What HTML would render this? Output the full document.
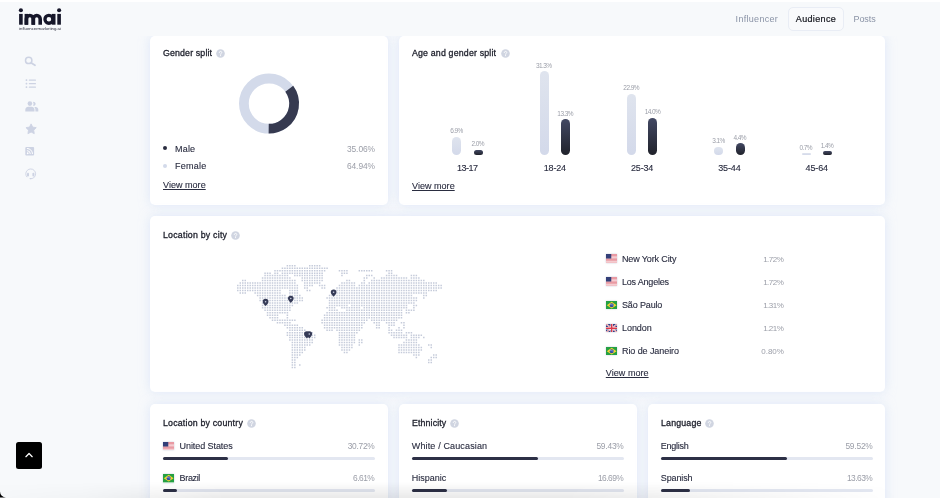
<!DOCTYPE html>
<html><head><meta charset="utf-8"><title>imai</title>
<style>
html,body{margin:0;padding:0}
body{width:940px;height:500px;overflow:hidden;position:relative;background:#f7f9fb;font-family:"Liberation Sans",sans-serif}
.card{position:absolute;background:#fff;border-radius:5px;box-shadow:0 0 11px rgba(203,217,246,.58)}
</style></head><body>
<div style="position:absolute;left:0;top:0;width:940px;height:500px;will-change:transform">
<div class="card" style="left:150px;top:35.6px;width:238px;height:169.4px"></div>
<div class="card" style="left:399px;top:35.6px;width:486px;height:169.4px"></div>
<div class="card" style="left:150px;top:216px;width:735px;height:176px"></div>
<div class="card" style="left:150px;top:404px;width:238px;height:120px"></div>
<div class="card" style="left:399px;top:404px;width:238px;height:120px"></div>
<div class="card" style="left:648px;top:404px;width:237px;height:120px"></div>
<div style="position:absolute;top:48px;font-size:8.8px;line-height:10px;color:#1d1f2b;white-space:nowrap;letter-spacing:0.146px;-webkit-text-stroke:0.3px #1d1f2b;left:163.00px;">Gender split</div>
<svg style="position:absolute;left:216.00px;top:48.80px" width="9" height="9" viewBox="0 0 9 9"><circle cx="4.5" cy="4.5" r="4.3" fill="#d0d5e1"/><path d="M3.3 3.6c0-.7.5-1.2 1.25-1.2.7 0 1.2.45 1.2 1.05 0 .9-1.15.95-1.15 1.85" fill="none" stroke="#fff" stroke-width=".9" stroke-linecap="round"/><circle cx="4.55" cy="6.6" r=".55" fill="#fff"/></svg>
<svg style="position:absolute;left:0;top:0" width="940" height="500"><circle cx="269" cy="103.6" r="25.1" fill="none" stroke="#d3daea" stroke-width="9.8"/><circle cx="269" cy="103.6" r="25.1" fill="none" stroke="#363a50" stroke-width="9.8" stroke-dasharray="55.292 157.708" transform="rotate(-36.22 269 103.6)"/></svg>
<div style="position:absolute;left:163.2px;top:146.4px;width:4px;height:4px;border-radius:50%;background:#2a2d40"></div>
<div style="position:absolute;left:163.2px;top:163.6px;width:4px;height:4px;border-radius:50%;background:#d3daea"></div>
<div style="position:absolute;top:144px;font-size:9px;line-height:10px;color:#2a2d40;white-space:nowrap;letter-spacing:0.198px;-webkit-text-stroke:0.12px #2a2d40;left:175.00px;">Male</div>
<div style="position:absolute;top:161px;font-size:9px;line-height:10px;color:#2a2d40;white-space:nowrap;letter-spacing:0.265px;-webkit-text-stroke:0.12px #2a2d40;left:175.00px;">Female</div>
<div style="position:absolute;top:144px;font-size:8.4px;line-height:10px;color:#9b9ea8;white-space:nowrap;letter-spacing:-0.065px;right:565.06px;">35.06%</div>
<div style="position:absolute;top:161px;font-size:8.4px;line-height:10px;color:#9b9ea8;white-space:nowrap;letter-spacing:-0.065px;right:565.06px;">64.94%</div>
<div style="position:absolute;top:180px;font-size:9px;line-height:10px;color:#2a2d40;white-space:nowrap;letter-spacing:0.039px;-webkit-text-stroke:0.12px #2a2d40;left:163.00px;text-decoration:underline;text-underline-offset:1px;text-decoration-thickness:.8px;">View more</div>
<div style="position:absolute;top:48px;font-size:8.8px;line-height:10px;color:#1d1f2b;white-space:nowrap;letter-spacing:0.174px;-webkit-text-stroke:0.3px #1d1f2b;left:412.00px;">Age and gender split</div>
<svg style="position:absolute;left:500.50px;top:48.80px" width="9" height="9" viewBox="0 0 9 9"><circle cx="4.5" cy="4.5" r="4.3" fill="#d0d5e1"/><path d="M3.3 3.6c0-.7.5-1.2 1.25-1.2.7 0 1.2.45 1.2 1.05 0 .9-1.15.95-1.15 1.85" fill="none" stroke="#fff" stroke-width=".9" stroke-linecap="round"/><circle cx="4.55" cy="6.6" r=".55" fill="#fff"/></svg>
<div style="position:absolute;left:452.30px;top:136.67px;width:9px;height:18.53px;border-radius:4.50px;background:linear-gradient(#dfe4ee,#d3d9ea)"></div>
<div style="position:absolute;left:473.60px;top:149.83px;width:9px;height:5.37px;border-radius:2.69px;background:linear-gradient(#424863,#20222b)"></div>
<div style="position:absolute;top:127px;font-size:6.5px;line-height:7px;color:#9b9ea8;white-space:nowrap;letter-spacing:-0.593px;left:356.50px;width:200px;text-align:center;">6.9%</div>
<div style="position:absolute;top:140px;font-size:6.5px;line-height:7px;color:#9b9ea8;white-space:nowrap;letter-spacing:-0.593px;left:377.80px;width:200px;text-align:center;">2.0%</div>
<div style="position:absolute;top:163px;font-size:9px;line-height:10px;color:#2a2d40;white-space:nowrap;letter-spacing:-0.500px;-webkit-text-stroke:0.12px #2a2d40;left:367.35px;width:200px;text-align:center;">13-17</div>
<div style="position:absolute;left:539.60px;top:71.16px;width:9px;height:84.04px;border-radius:4.50px;background:linear-gradient(#dfe4ee,#d3d9ea)"></div>
<div style="position:absolute;left:560.90px;top:119.49px;width:9px;height:35.71px;border-radius:4.50px;background:linear-gradient(#424863,#20222b)"></div>
<div style="position:absolute;top:62px;font-size:6.5px;line-height:7px;color:#9b9ea8;white-space:nowrap;letter-spacing:-0.590px;left:443.81px;width:200px;text-align:center;">31.3%</div>
<div style="position:absolute;top:110px;font-size:6.5px;line-height:7px;color:#9b9ea8;white-space:nowrap;letter-spacing:-0.590px;left:465.11px;width:200px;text-align:center;">13.3%</div>
<div style="position:absolute;top:163px;font-size:9px;line-height:10px;color:#2a2d40;white-space:nowrap;letter-spacing:-0.224px;-webkit-text-stroke:0.12px #2a2d40;left:454.79px;width:200px;text-align:center;">18-24</div>
<div style="position:absolute;left:626.90px;top:93.71px;width:9px;height:61.49px;border-radius:4.50px;background:linear-gradient(#dfe4ee,#d3d9ea)"></div>
<div style="position:absolute;left:648.20px;top:117.61px;width:9px;height:37.59px;border-radius:4.50px;background:linear-gradient(#424863,#20222b)"></div>
<div style="position:absolute;top:84px;font-size:6.5px;line-height:7px;color:#9b9ea8;white-space:nowrap;letter-spacing:-0.590px;left:531.11px;width:200px;text-align:center;">22.9%</div>
<div style="position:absolute;top:108px;font-size:6.5px;line-height:7px;color:#9b9ea8;white-space:nowrap;letter-spacing:-0.590px;left:552.41px;width:200px;text-align:center;">14.0%</div>
<div style="position:absolute;top:163px;font-size:9px;line-height:10px;color:#2a2d40;white-space:nowrap;letter-spacing:-0.164px;-webkit-text-stroke:0.12px #2a2d40;left:542.12px;width:200px;text-align:center;">25-34</div>
<div style="position:absolute;left:714.20px;top:146.88px;width:9px;height:8.32px;border-radius:4.16px;background:linear-gradient(#dfe4ee,#d3d9ea)"></div>
<div style="position:absolute;left:735.50px;top:143.39px;width:9px;height:11.81px;border-radius:4.50px;background:linear-gradient(#424863,#20222b)"></div>
<div style="position:absolute;top:137px;font-size:6.5px;line-height:7px;color:#9b9ea8;white-space:nowrap;letter-spacing:-0.593px;left:618.40px;width:200px;text-align:center;">3.1%</div>
<div style="position:absolute;top:134px;font-size:6.5px;line-height:7px;color:#9b9ea8;white-space:nowrap;letter-spacing:-0.593px;left:639.70px;width:200px;text-align:center;">4.4%</div>
<div style="position:absolute;top:163px;font-size:9px;line-height:10px;color:#2a2d40;white-space:nowrap;letter-spacing:-0.124px;-webkit-text-stroke:0.12px #2a2d40;left:629.44px;width:200px;text-align:center;">35-44</div>
<div style="position:absolute;left:801.50px;top:153.32px;width:9px;height:1.88px;border-radius:0.94px;background:linear-gradient(#dfe4ee,#d3d9ea)"></div>
<div style="position:absolute;left:822.80px;top:151.44px;width:9px;height:3.76px;border-radius:1.88px;background:linear-gradient(#424863,#20222b)"></div>
<div style="position:absolute;top:144px;font-size:6.5px;line-height:7px;color:#9b9ea8;white-space:nowrap;letter-spacing:-0.593px;left:705.70px;width:200px;text-align:center;">0.7%</div>
<div style="position:absolute;top:142px;font-size:6.5px;line-height:7px;color:#9b9ea8;white-space:nowrap;letter-spacing:-0.593px;left:727.00px;width:200px;text-align:center;">1.4%</div>
<div style="position:absolute;top:163px;font-size:9px;line-height:10px;color:#2a2d40;white-space:nowrap;letter-spacing:-0.124px;-webkit-text-stroke:0.12px #2a2d40;left:716.74px;width:200px;text-align:center;">45-64</div>
<div style="position:absolute;top:181px;font-size:9px;line-height:10px;color:#2a2d40;white-space:nowrap;letter-spacing:0.039px;-webkit-text-stroke:0.12px #2a2d40;left:412.00px;text-decoration:underline;text-underline-offset:1px;text-decoration-thickness:.8px;">View more</div>
<div style="position:absolute;top:230px;font-size:8.8px;line-height:10px;color:#1d1f2b;white-space:nowrap;letter-spacing:0.222px;-webkit-text-stroke:0.3px #1d1f2b;left:163.00px;">Location by city</div>
<svg style="position:absolute;left:230.80px;top:230.90px" width="9" height="9" viewBox="0 0 9 9"><circle cx="4.5" cy="4.5" r="4.3" fill="#d0d5e1"/><path d="M3.3 3.6c0-.7.5-1.2 1.25-1.2.7 0 1.2.45 1.2 1.05 0 .9-1.15.95-1.15 1.85" fill="none" stroke="#fff" stroke-width=".9" stroke-linecap="round"/><circle cx="4.55" cy="6.6" r=".55" fill="#fff"/></svg>
<svg style="position:absolute;left:0;top:0" width="940" height="500"><path fill="#c5cbda" d="M286.65 264.95h1.5v1.5h-1.5zM289.13 264.95h1.5v1.5h-1.5zM291.61 264.95h1.5v1.5h-1.5zM294.09 264.95h1.5v1.5h-1.5zM308.97 264.95h1.5v1.5h-1.5zM311.45 264.95h1.5v1.5h-1.5zM313.93 264.95h1.5v1.5h-1.5zM316.41 264.95h1.5v1.5h-1.5zM318.89 264.95h1.5v1.5h-1.5zM281.69 267.43h1.5v1.5h-1.5zM284.17 267.43h1.5v1.5h-1.5zM286.65 267.43h1.5v1.5h-1.5zM289.13 267.43h1.5v1.5h-1.5zM291.61 267.43h1.5v1.5h-1.5zM294.09 267.43h1.5v1.5h-1.5zM296.57 267.43h1.5v1.5h-1.5zM299.05 267.43h1.5v1.5h-1.5zM301.53 267.43h1.5v1.5h-1.5zM304.01 267.43h1.5v1.5h-1.5zM306.49 267.43h1.5v1.5h-1.5zM308.97 267.43h1.5v1.5h-1.5zM311.45 267.43h1.5v1.5h-1.5zM313.93 267.43h1.5v1.5h-1.5zM316.41 267.43h1.5v1.5h-1.5zM318.89 267.43h1.5v1.5h-1.5zM321.37 267.43h1.5v1.5h-1.5zM323.85 267.43h1.5v1.5h-1.5zM326.33 267.43h1.5v1.5h-1.5zM274.25 269.91h1.5v1.5h-1.5zM276.73 269.91h1.5v1.5h-1.5zM279.21 269.91h1.5v1.5h-1.5zM281.69 269.91h1.5v1.5h-1.5zM284.17 269.91h1.5v1.5h-1.5zM286.65 269.91h1.5v1.5h-1.5zM289.13 269.91h1.5v1.5h-1.5zM291.61 269.91h1.5v1.5h-1.5zM294.09 269.91h1.5v1.5h-1.5zM296.57 269.91h1.5v1.5h-1.5zM299.05 269.91h1.5v1.5h-1.5zM301.53 269.91h1.5v1.5h-1.5zM304.01 269.91h1.5v1.5h-1.5zM306.49 269.91h1.5v1.5h-1.5zM308.97 269.91h1.5v1.5h-1.5zM311.45 269.91h1.5v1.5h-1.5zM313.93 269.91h1.5v1.5h-1.5zM316.41 269.91h1.5v1.5h-1.5zM318.89 269.91h1.5v1.5h-1.5zM321.37 269.91h1.5v1.5h-1.5zM323.85 269.91h1.5v1.5h-1.5zM338.73 269.91h1.5v1.5h-1.5zM341.21 269.91h1.5v1.5h-1.5zM343.69 269.91h1.5v1.5h-1.5zM346.17 269.91h1.5v1.5h-1.5zM358.57 269.91h1.5v1.5h-1.5zM361.05 269.91h1.5v1.5h-1.5zM363.53 269.91h1.5v1.5h-1.5zM366.01 269.91h1.5v1.5h-1.5zM368.49 269.91h1.5v1.5h-1.5zM370.97 269.91h1.5v1.5h-1.5zM385.85 269.91h1.5v1.5h-1.5zM388.33 269.91h1.5v1.5h-1.5zM390.81 269.91h1.5v1.5h-1.5zM264.33 272.39h1.5v1.5h-1.5zM266.81 272.39h1.5v1.5h-1.5zM269.29 272.39h1.5v1.5h-1.5zM274.25 272.39h1.5v1.5h-1.5zM276.73 272.39h1.5v1.5h-1.5zM281.69 272.39h1.5v1.5h-1.5zM284.17 272.39h1.5v1.5h-1.5zM286.65 272.39h1.5v1.5h-1.5zM289.13 272.39h1.5v1.5h-1.5zM291.61 272.39h1.5v1.5h-1.5zM294.09 272.39h1.5v1.5h-1.5zM296.57 272.39h1.5v1.5h-1.5zM299.05 272.39h1.5v1.5h-1.5zM301.53 272.39h1.5v1.5h-1.5zM304.01 272.39h1.5v1.5h-1.5zM306.49 272.39h1.5v1.5h-1.5zM308.97 272.39h1.5v1.5h-1.5zM311.45 272.39h1.5v1.5h-1.5zM313.93 272.39h1.5v1.5h-1.5zM316.41 272.39h1.5v1.5h-1.5zM318.89 272.39h1.5v1.5h-1.5zM321.37 272.39h1.5v1.5h-1.5zM341.21 272.39h1.5v1.5h-1.5zM343.69 272.39h1.5v1.5h-1.5zM346.17 272.39h1.5v1.5h-1.5zM388.33 272.39h1.5v1.5h-1.5zM390.81 272.39h1.5v1.5h-1.5zM264.33 274.87h1.5v1.5h-1.5zM266.81 274.87h1.5v1.5h-1.5zM269.29 274.87h1.5v1.5h-1.5zM271.77 274.87h1.5v1.5h-1.5zM274.25 274.87h1.5v1.5h-1.5zM276.73 274.87h1.5v1.5h-1.5zM279.21 274.87h1.5v1.5h-1.5zM281.69 274.87h1.5v1.5h-1.5zM284.17 274.87h1.5v1.5h-1.5zM286.65 274.87h1.5v1.5h-1.5zM294.09 274.87h1.5v1.5h-1.5zM296.57 274.87h1.5v1.5h-1.5zM299.05 274.87h1.5v1.5h-1.5zM301.53 274.87h1.5v1.5h-1.5zM304.01 274.87h1.5v1.5h-1.5zM306.49 274.87h1.5v1.5h-1.5zM308.97 274.87h1.5v1.5h-1.5zM311.45 274.87h1.5v1.5h-1.5zM313.93 274.87h1.5v1.5h-1.5zM316.41 274.87h1.5v1.5h-1.5zM318.89 274.87h1.5v1.5h-1.5zM321.37 274.87h1.5v1.5h-1.5zM341.21 274.87h1.5v1.5h-1.5zM366.01 274.87h1.5v1.5h-1.5zM368.49 274.87h1.5v1.5h-1.5zM370.97 274.87h1.5v1.5h-1.5zM385.85 274.87h1.5v1.5h-1.5zM388.33 274.87h1.5v1.5h-1.5zM390.81 274.87h1.5v1.5h-1.5zM393.29 274.87h1.5v1.5h-1.5zM395.77 274.87h1.5v1.5h-1.5zM410.65 274.87h1.5v1.5h-1.5zM413.13 274.87h1.5v1.5h-1.5zM415.61 274.87h1.5v1.5h-1.5zM261.85 277.35h1.5v1.5h-1.5zM264.33 277.35h1.5v1.5h-1.5zM266.81 277.35h1.5v1.5h-1.5zM269.29 277.35h1.5v1.5h-1.5zM271.77 277.35h1.5v1.5h-1.5zM274.25 277.35h1.5v1.5h-1.5zM276.73 277.35h1.5v1.5h-1.5zM279.21 277.35h1.5v1.5h-1.5zM281.69 277.35h1.5v1.5h-1.5zM284.17 277.35h1.5v1.5h-1.5zM286.65 277.35h1.5v1.5h-1.5zM289.13 277.35h1.5v1.5h-1.5zM301.53 277.35h1.5v1.5h-1.5zM304.01 277.35h1.5v1.5h-1.5zM306.49 277.35h1.5v1.5h-1.5zM308.97 277.35h1.5v1.5h-1.5zM311.45 277.35h1.5v1.5h-1.5zM313.93 277.35h1.5v1.5h-1.5zM316.41 277.35h1.5v1.5h-1.5zM318.89 277.35h1.5v1.5h-1.5zM321.37 277.35h1.5v1.5h-1.5zM363.53 277.35h1.5v1.5h-1.5zM366.01 277.35h1.5v1.5h-1.5zM373.45 277.35h1.5v1.5h-1.5zM380.89 277.35h1.5v1.5h-1.5zM383.37 277.35h1.5v1.5h-1.5zM385.85 277.35h1.5v1.5h-1.5zM388.33 277.35h1.5v1.5h-1.5zM390.81 277.35h1.5v1.5h-1.5zM393.29 277.35h1.5v1.5h-1.5zM395.77 277.35h1.5v1.5h-1.5zM398.25 277.35h1.5v1.5h-1.5zM400.73 277.35h1.5v1.5h-1.5zM403.21 277.35h1.5v1.5h-1.5zM405.69 277.35h1.5v1.5h-1.5zM410.65 277.35h1.5v1.5h-1.5zM413.13 277.35h1.5v1.5h-1.5zM415.61 277.35h1.5v1.5h-1.5zM418.09 277.35h1.5v1.5h-1.5zM242.01 279.83h1.5v1.5h-1.5zM244.49 279.83h1.5v1.5h-1.5zM261.85 279.83h1.5v1.5h-1.5zM264.33 279.83h1.5v1.5h-1.5zM266.81 279.83h1.5v1.5h-1.5zM269.29 279.83h1.5v1.5h-1.5zM271.77 279.83h1.5v1.5h-1.5zM274.25 279.83h1.5v1.5h-1.5zM276.73 279.83h1.5v1.5h-1.5zM279.21 279.83h1.5v1.5h-1.5zM281.69 279.83h1.5v1.5h-1.5zM284.17 279.83h1.5v1.5h-1.5zM286.65 279.83h1.5v1.5h-1.5zM289.13 279.83h1.5v1.5h-1.5zM291.61 279.83h1.5v1.5h-1.5zM294.09 279.83h1.5v1.5h-1.5zM301.53 279.83h1.5v1.5h-1.5zM304.01 279.83h1.5v1.5h-1.5zM306.49 279.83h1.5v1.5h-1.5zM308.97 279.83h1.5v1.5h-1.5zM311.45 279.83h1.5v1.5h-1.5zM313.93 279.83h1.5v1.5h-1.5zM316.41 279.83h1.5v1.5h-1.5zM318.89 279.83h1.5v1.5h-1.5zM321.37 279.83h1.5v1.5h-1.5zM346.17 279.83h1.5v1.5h-1.5zM348.65 279.83h1.5v1.5h-1.5zM363.53 279.83h1.5v1.5h-1.5zM370.97 279.83h1.5v1.5h-1.5zM373.45 279.83h1.5v1.5h-1.5zM375.93 279.83h1.5v1.5h-1.5zM378.41 279.83h1.5v1.5h-1.5zM380.89 279.83h1.5v1.5h-1.5zM383.37 279.83h1.5v1.5h-1.5zM385.85 279.83h1.5v1.5h-1.5zM388.33 279.83h1.5v1.5h-1.5zM390.81 279.83h1.5v1.5h-1.5zM393.29 279.83h1.5v1.5h-1.5zM395.77 279.83h1.5v1.5h-1.5zM398.25 279.83h1.5v1.5h-1.5zM400.73 279.83h1.5v1.5h-1.5zM403.21 279.83h1.5v1.5h-1.5zM405.69 279.83h1.5v1.5h-1.5zM408.17 279.83h1.5v1.5h-1.5zM410.65 279.83h1.5v1.5h-1.5zM413.13 279.83h1.5v1.5h-1.5zM415.61 279.83h1.5v1.5h-1.5zM418.09 279.83h1.5v1.5h-1.5zM420.57 279.83h1.5v1.5h-1.5zM423.05 279.83h1.5v1.5h-1.5zM239.53 282.31h1.5v1.5h-1.5zM242.01 282.31h1.5v1.5h-1.5zM244.49 282.31h1.5v1.5h-1.5zM246.97 282.31h1.5v1.5h-1.5zM249.45 282.31h1.5v1.5h-1.5zM251.93 282.31h1.5v1.5h-1.5zM254.41 282.31h1.5v1.5h-1.5zM256.89 282.31h1.5v1.5h-1.5zM259.37 282.31h1.5v1.5h-1.5zM261.85 282.31h1.5v1.5h-1.5zM264.33 282.31h1.5v1.5h-1.5zM266.81 282.31h1.5v1.5h-1.5zM269.29 282.31h1.5v1.5h-1.5zM271.77 282.31h1.5v1.5h-1.5zM274.25 282.31h1.5v1.5h-1.5zM276.73 282.31h1.5v1.5h-1.5zM279.21 282.31h1.5v1.5h-1.5zM281.69 282.31h1.5v1.5h-1.5zM284.17 282.31h1.5v1.5h-1.5zM286.65 282.31h1.5v1.5h-1.5zM289.13 282.31h1.5v1.5h-1.5zM291.61 282.31h1.5v1.5h-1.5zM294.09 282.31h1.5v1.5h-1.5zM304.01 282.31h1.5v1.5h-1.5zM306.49 282.31h1.5v1.5h-1.5zM308.97 282.31h1.5v1.5h-1.5zM311.45 282.31h1.5v1.5h-1.5zM313.93 282.31h1.5v1.5h-1.5zM316.41 282.31h1.5v1.5h-1.5zM318.89 282.31h1.5v1.5h-1.5zM341.21 282.31h1.5v1.5h-1.5zM343.69 282.31h1.5v1.5h-1.5zM346.17 282.31h1.5v1.5h-1.5zM348.65 282.31h1.5v1.5h-1.5zM351.13 282.31h1.5v1.5h-1.5zM353.61 282.31h1.5v1.5h-1.5zM361.05 282.31h1.5v1.5h-1.5zM363.53 282.31h1.5v1.5h-1.5zM368.49 282.31h1.5v1.5h-1.5zM370.97 282.31h1.5v1.5h-1.5zM373.45 282.31h1.5v1.5h-1.5zM375.93 282.31h1.5v1.5h-1.5zM378.41 282.31h1.5v1.5h-1.5zM380.89 282.31h1.5v1.5h-1.5zM383.37 282.31h1.5v1.5h-1.5zM385.85 282.31h1.5v1.5h-1.5zM388.33 282.31h1.5v1.5h-1.5zM390.81 282.31h1.5v1.5h-1.5zM393.29 282.31h1.5v1.5h-1.5zM395.77 282.31h1.5v1.5h-1.5zM398.25 282.31h1.5v1.5h-1.5zM400.73 282.31h1.5v1.5h-1.5zM403.21 282.31h1.5v1.5h-1.5zM405.69 282.31h1.5v1.5h-1.5zM408.17 282.31h1.5v1.5h-1.5zM410.65 282.31h1.5v1.5h-1.5zM413.13 282.31h1.5v1.5h-1.5zM415.61 282.31h1.5v1.5h-1.5zM418.09 282.31h1.5v1.5h-1.5zM420.57 282.31h1.5v1.5h-1.5zM423.05 282.31h1.5v1.5h-1.5zM425.53 282.31h1.5v1.5h-1.5zM428.01 282.31h1.5v1.5h-1.5zM430.49 282.31h1.5v1.5h-1.5zM432.97 282.31h1.5v1.5h-1.5zM435.45 282.31h1.5v1.5h-1.5zM237.05 284.79h1.5v1.5h-1.5zM239.53 284.79h1.5v1.5h-1.5zM242.01 284.79h1.5v1.5h-1.5zM244.49 284.79h1.5v1.5h-1.5zM246.97 284.79h1.5v1.5h-1.5zM249.45 284.79h1.5v1.5h-1.5zM251.93 284.79h1.5v1.5h-1.5zM254.41 284.79h1.5v1.5h-1.5zM256.89 284.79h1.5v1.5h-1.5zM259.37 284.79h1.5v1.5h-1.5zM261.85 284.79h1.5v1.5h-1.5zM264.33 284.79h1.5v1.5h-1.5zM266.81 284.79h1.5v1.5h-1.5zM269.29 284.79h1.5v1.5h-1.5zM271.77 284.79h1.5v1.5h-1.5zM274.25 284.79h1.5v1.5h-1.5zM276.73 284.79h1.5v1.5h-1.5zM279.21 284.79h1.5v1.5h-1.5zM281.69 284.79h1.5v1.5h-1.5zM284.17 284.79h1.5v1.5h-1.5zM286.65 284.79h1.5v1.5h-1.5zM289.13 284.79h1.5v1.5h-1.5zM291.61 284.79h1.5v1.5h-1.5zM294.09 284.79h1.5v1.5h-1.5zM296.57 284.79h1.5v1.5h-1.5zM304.01 284.79h1.5v1.5h-1.5zM306.49 284.79h1.5v1.5h-1.5zM308.97 284.79h1.5v1.5h-1.5zM311.45 284.79h1.5v1.5h-1.5zM318.89 284.79h1.5v1.5h-1.5zM321.37 284.79h1.5v1.5h-1.5zM323.85 284.79h1.5v1.5h-1.5zM338.73 284.79h1.5v1.5h-1.5zM341.21 284.79h1.5v1.5h-1.5zM343.69 284.79h1.5v1.5h-1.5zM346.17 284.79h1.5v1.5h-1.5zM348.65 284.79h1.5v1.5h-1.5zM351.13 284.79h1.5v1.5h-1.5zM353.61 284.79h1.5v1.5h-1.5zM358.57 284.79h1.5v1.5h-1.5zM361.05 284.79h1.5v1.5h-1.5zM363.53 284.79h1.5v1.5h-1.5zM366.01 284.79h1.5v1.5h-1.5zM368.49 284.79h1.5v1.5h-1.5zM370.97 284.79h1.5v1.5h-1.5zM373.45 284.79h1.5v1.5h-1.5zM375.93 284.79h1.5v1.5h-1.5zM378.41 284.79h1.5v1.5h-1.5zM380.89 284.79h1.5v1.5h-1.5zM383.37 284.79h1.5v1.5h-1.5zM385.85 284.79h1.5v1.5h-1.5zM388.33 284.79h1.5v1.5h-1.5zM390.81 284.79h1.5v1.5h-1.5zM393.29 284.79h1.5v1.5h-1.5zM395.77 284.79h1.5v1.5h-1.5zM398.25 284.79h1.5v1.5h-1.5zM400.73 284.79h1.5v1.5h-1.5zM403.21 284.79h1.5v1.5h-1.5zM405.69 284.79h1.5v1.5h-1.5zM408.17 284.79h1.5v1.5h-1.5zM410.65 284.79h1.5v1.5h-1.5zM413.13 284.79h1.5v1.5h-1.5zM415.61 284.79h1.5v1.5h-1.5zM418.09 284.79h1.5v1.5h-1.5zM420.57 284.79h1.5v1.5h-1.5zM423.05 284.79h1.5v1.5h-1.5zM425.53 284.79h1.5v1.5h-1.5zM428.01 284.79h1.5v1.5h-1.5zM430.49 284.79h1.5v1.5h-1.5zM432.97 284.79h1.5v1.5h-1.5zM435.45 284.79h1.5v1.5h-1.5zM437.93 284.79h1.5v1.5h-1.5zM440.41 284.79h1.5v1.5h-1.5zM237.05 287.27h1.5v1.5h-1.5zM239.53 287.27h1.5v1.5h-1.5zM242.01 287.27h1.5v1.5h-1.5zM244.49 287.27h1.5v1.5h-1.5zM246.97 287.27h1.5v1.5h-1.5zM249.45 287.27h1.5v1.5h-1.5zM251.93 287.27h1.5v1.5h-1.5zM254.41 287.27h1.5v1.5h-1.5zM256.89 287.27h1.5v1.5h-1.5zM259.37 287.27h1.5v1.5h-1.5zM261.85 287.27h1.5v1.5h-1.5zM264.33 287.27h1.5v1.5h-1.5zM266.81 287.27h1.5v1.5h-1.5zM269.29 287.27h1.5v1.5h-1.5zM271.77 287.27h1.5v1.5h-1.5zM274.25 287.27h1.5v1.5h-1.5zM276.73 287.27h1.5v1.5h-1.5zM279.21 287.27h1.5v1.5h-1.5zM281.69 287.27h1.5v1.5h-1.5zM284.17 287.27h1.5v1.5h-1.5zM286.65 287.27h1.5v1.5h-1.5zM289.13 287.27h1.5v1.5h-1.5zM291.61 287.27h1.5v1.5h-1.5zM294.09 287.27h1.5v1.5h-1.5zM296.57 287.27h1.5v1.5h-1.5zM304.01 287.27h1.5v1.5h-1.5zM306.49 287.27h1.5v1.5h-1.5zM321.37 287.27h1.5v1.5h-1.5zM323.85 287.27h1.5v1.5h-1.5zM336.25 287.27h1.5v1.5h-1.5zM338.73 287.27h1.5v1.5h-1.5zM341.21 287.27h1.5v1.5h-1.5zM343.69 287.27h1.5v1.5h-1.5zM346.17 287.27h1.5v1.5h-1.5zM348.65 287.27h1.5v1.5h-1.5zM351.13 287.27h1.5v1.5h-1.5zM353.61 287.27h1.5v1.5h-1.5zM356.09 287.27h1.5v1.5h-1.5zM358.57 287.27h1.5v1.5h-1.5zM361.05 287.27h1.5v1.5h-1.5zM363.53 287.27h1.5v1.5h-1.5zM366.01 287.27h1.5v1.5h-1.5zM368.49 287.27h1.5v1.5h-1.5zM370.97 287.27h1.5v1.5h-1.5zM373.45 287.27h1.5v1.5h-1.5zM375.93 287.27h1.5v1.5h-1.5zM378.41 287.27h1.5v1.5h-1.5zM380.89 287.27h1.5v1.5h-1.5zM383.37 287.27h1.5v1.5h-1.5zM385.85 287.27h1.5v1.5h-1.5zM388.33 287.27h1.5v1.5h-1.5zM390.81 287.27h1.5v1.5h-1.5zM393.29 287.27h1.5v1.5h-1.5zM395.77 287.27h1.5v1.5h-1.5zM398.25 287.27h1.5v1.5h-1.5zM400.73 287.27h1.5v1.5h-1.5zM403.21 287.27h1.5v1.5h-1.5zM405.69 287.27h1.5v1.5h-1.5zM408.17 287.27h1.5v1.5h-1.5zM410.65 287.27h1.5v1.5h-1.5zM413.13 287.27h1.5v1.5h-1.5zM415.61 287.27h1.5v1.5h-1.5zM418.09 287.27h1.5v1.5h-1.5zM420.57 287.27h1.5v1.5h-1.5zM423.05 287.27h1.5v1.5h-1.5zM425.53 287.27h1.5v1.5h-1.5zM428.01 287.27h1.5v1.5h-1.5zM430.49 287.27h1.5v1.5h-1.5zM432.97 287.27h1.5v1.5h-1.5zM435.45 287.27h1.5v1.5h-1.5zM437.93 287.27h1.5v1.5h-1.5zM440.41 287.27h1.5v1.5h-1.5zM237.05 289.75h1.5v1.5h-1.5zM239.53 289.75h1.5v1.5h-1.5zM242.01 289.75h1.5v1.5h-1.5zM244.49 289.75h1.5v1.5h-1.5zM246.97 289.75h1.5v1.5h-1.5zM249.45 289.75h1.5v1.5h-1.5zM251.93 289.75h1.5v1.5h-1.5zM254.41 289.75h1.5v1.5h-1.5zM256.89 289.75h1.5v1.5h-1.5zM259.37 289.75h1.5v1.5h-1.5zM261.85 289.75h1.5v1.5h-1.5zM264.33 289.75h1.5v1.5h-1.5zM266.81 289.75h1.5v1.5h-1.5zM269.29 289.75h1.5v1.5h-1.5zM271.77 289.75h1.5v1.5h-1.5zM274.25 289.75h1.5v1.5h-1.5zM276.73 289.75h1.5v1.5h-1.5zM279.21 289.75h1.5v1.5h-1.5zM289.13 289.75h1.5v1.5h-1.5zM291.61 289.75h1.5v1.5h-1.5zM294.09 289.75h1.5v1.5h-1.5zM296.57 289.75h1.5v1.5h-1.5zM306.49 289.75h1.5v1.5h-1.5zM308.97 289.75h1.5v1.5h-1.5zM333.77 289.75h1.5v1.5h-1.5zM336.25 289.75h1.5v1.5h-1.5zM338.73 289.75h1.5v1.5h-1.5zM341.21 289.75h1.5v1.5h-1.5zM343.69 289.75h1.5v1.5h-1.5zM346.17 289.75h1.5v1.5h-1.5zM348.65 289.75h1.5v1.5h-1.5zM351.13 289.75h1.5v1.5h-1.5zM353.61 289.75h1.5v1.5h-1.5zM356.09 289.75h1.5v1.5h-1.5zM358.57 289.75h1.5v1.5h-1.5zM361.05 289.75h1.5v1.5h-1.5zM363.53 289.75h1.5v1.5h-1.5zM366.01 289.75h1.5v1.5h-1.5zM368.49 289.75h1.5v1.5h-1.5zM370.97 289.75h1.5v1.5h-1.5zM373.45 289.75h1.5v1.5h-1.5zM375.93 289.75h1.5v1.5h-1.5zM378.41 289.75h1.5v1.5h-1.5zM380.89 289.75h1.5v1.5h-1.5zM383.37 289.75h1.5v1.5h-1.5zM385.85 289.75h1.5v1.5h-1.5zM388.33 289.75h1.5v1.5h-1.5zM390.81 289.75h1.5v1.5h-1.5zM393.29 289.75h1.5v1.5h-1.5zM395.77 289.75h1.5v1.5h-1.5zM398.25 289.75h1.5v1.5h-1.5zM400.73 289.75h1.5v1.5h-1.5zM403.21 289.75h1.5v1.5h-1.5zM405.69 289.75h1.5v1.5h-1.5zM408.17 289.75h1.5v1.5h-1.5zM410.65 289.75h1.5v1.5h-1.5zM413.13 289.75h1.5v1.5h-1.5zM415.61 289.75h1.5v1.5h-1.5zM418.09 289.75h1.5v1.5h-1.5zM420.57 289.75h1.5v1.5h-1.5zM423.05 289.75h1.5v1.5h-1.5zM425.53 289.75h1.5v1.5h-1.5zM428.01 289.75h1.5v1.5h-1.5zM430.49 289.75h1.5v1.5h-1.5zM432.97 289.75h1.5v1.5h-1.5zM435.45 289.75h1.5v1.5h-1.5zM239.53 292.23h1.5v1.5h-1.5zM242.01 292.23h1.5v1.5h-1.5zM244.49 292.23h1.5v1.5h-1.5zM254.41 292.23h1.5v1.5h-1.5zM256.89 292.23h1.5v1.5h-1.5zM259.37 292.23h1.5v1.5h-1.5zM261.85 292.23h1.5v1.5h-1.5zM264.33 292.23h1.5v1.5h-1.5zM266.81 292.23h1.5v1.5h-1.5zM269.29 292.23h1.5v1.5h-1.5zM271.77 292.23h1.5v1.5h-1.5zM274.25 292.23h1.5v1.5h-1.5zM276.73 292.23h1.5v1.5h-1.5zM279.21 292.23h1.5v1.5h-1.5zM289.13 292.23h1.5v1.5h-1.5zM291.61 292.23h1.5v1.5h-1.5zM294.09 292.23h1.5v1.5h-1.5zM296.57 292.23h1.5v1.5h-1.5zM331.29 292.23h1.5v1.5h-1.5zM333.77 292.23h1.5v1.5h-1.5zM336.25 292.23h1.5v1.5h-1.5zM338.73 292.23h1.5v1.5h-1.5zM341.21 292.23h1.5v1.5h-1.5zM343.69 292.23h1.5v1.5h-1.5zM346.17 292.23h1.5v1.5h-1.5zM348.65 292.23h1.5v1.5h-1.5zM351.13 292.23h1.5v1.5h-1.5zM353.61 292.23h1.5v1.5h-1.5zM356.09 292.23h1.5v1.5h-1.5zM358.57 292.23h1.5v1.5h-1.5zM361.05 292.23h1.5v1.5h-1.5zM363.53 292.23h1.5v1.5h-1.5zM366.01 292.23h1.5v1.5h-1.5zM368.49 292.23h1.5v1.5h-1.5zM370.97 292.23h1.5v1.5h-1.5zM373.45 292.23h1.5v1.5h-1.5zM375.93 292.23h1.5v1.5h-1.5zM378.41 292.23h1.5v1.5h-1.5zM380.89 292.23h1.5v1.5h-1.5zM383.37 292.23h1.5v1.5h-1.5zM385.85 292.23h1.5v1.5h-1.5zM388.33 292.23h1.5v1.5h-1.5zM390.81 292.23h1.5v1.5h-1.5zM393.29 292.23h1.5v1.5h-1.5zM395.77 292.23h1.5v1.5h-1.5zM398.25 292.23h1.5v1.5h-1.5zM400.73 292.23h1.5v1.5h-1.5zM403.21 292.23h1.5v1.5h-1.5zM405.69 292.23h1.5v1.5h-1.5zM408.17 292.23h1.5v1.5h-1.5zM410.65 292.23h1.5v1.5h-1.5zM413.13 292.23h1.5v1.5h-1.5zM415.61 292.23h1.5v1.5h-1.5zM418.09 292.23h1.5v1.5h-1.5zM420.57 292.23h1.5v1.5h-1.5zM423.05 292.23h1.5v1.5h-1.5zM425.53 292.23h1.5v1.5h-1.5zM256.89 294.71h1.5v1.5h-1.5zM259.37 294.71h1.5v1.5h-1.5zM261.85 294.71h1.5v1.5h-1.5zM264.33 294.71h1.5v1.5h-1.5zM266.81 294.71h1.5v1.5h-1.5zM269.29 294.71h1.5v1.5h-1.5zM271.77 294.71h1.5v1.5h-1.5zM274.25 294.71h1.5v1.5h-1.5zM276.73 294.71h1.5v1.5h-1.5zM279.21 294.71h1.5v1.5h-1.5zM281.69 294.71h1.5v1.5h-1.5zM284.17 294.71h1.5v1.5h-1.5zM289.13 294.71h1.5v1.5h-1.5zM291.61 294.71h1.5v1.5h-1.5zM294.09 294.71h1.5v1.5h-1.5zM296.57 294.71h1.5v1.5h-1.5zM299.05 294.71h1.5v1.5h-1.5zM328.81 294.71h1.5v1.5h-1.5zM331.29 294.71h1.5v1.5h-1.5zM333.77 294.71h1.5v1.5h-1.5zM336.25 294.71h1.5v1.5h-1.5zM338.73 294.71h1.5v1.5h-1.5zM341.21 294.71h1.5v1.5h-1.5zM343.69 294.71h1.5v1.5h-1.5zM346.17 294.71h1.5v1.5h-1.5zM348.65 294.71h1.5v1.5h-1.5zM351.13 294.71h1.5v1.5h-1.5zM353.61 294.71h1.5v1.5h-1.5zM356.09 294.71h1.5v1.5h-1.5zM358.57 294.71h1.5v1.5h-1.5zM361.05 294.71h1.5v1.5h-1.5zM363.53 294.71h1.5v1.5h-1.5zM366.01 294.71h1.5v1.5h-1.5zM368.49 294.71h1.5v1.5h-1.5zM370.97 294.71h1.5v1.5h-1.5zM373.45 294.71h1.5v1.5h-1.5zM375.93 294.71h1.5v1.5h-1.5zM378.41 294.71h1.5v1.5h-1.5zM380.89 294.71h1.5v1.5h-1.5zM383.37 294.71h1.5v1.5h-1.5zM385.85 294.71h1.5v1.5h-1.5zM388.33 294.71h1.5v1.5h-1.5zM390.81 294.71h1.5v1.5h-1.5zM393.29 294.71h1.5v1.5h-1.5zM395.77 294.71h1.5v1.5h-1.5zM398.25 294.71h1.5v1.5h-1.5zM400.73 294.71h1.5v1.5h-1.5zM403.21 294.71h1.5v1.5h-1.5zM405.69 294.71h1.5v1.5h-1.5zM408.17 294.71h1.5v1.5h-1.5zM410.65 294.71h1.5v1.5h-1.5zM423.05 294.71h1.5v1.5h-1.5zM425.53 294.71h1.5v1.5h-1.5zM259.37 297.19h1.5v1.5h-1.5zM261.85 297.19h1.5v1.5h-1.5zM264.33 297.19h1.5v1.5h-1.5zM266.81 297.19h1.5v1.5h-1.5zM269.29 297.19h1.5v1.5h-1.5zM271.77 297.19h1.5v1.5h-1.5zM274.25 297.19h1.5v1.5h-1.5zM276.73 297.19h1.5v1.5h-1.5zM279.21 297.19h1.5v1.5h-1.5zM281.69 297.19h1.5v1.5h-1.5zM284.17 297.19h1.5v1.5h-1.5zM286.65 297.19h1.5v1.5h-1.5zM289.13 297.19h1.5v1.5h-1.5zM291.61 297.19h1.5v1.5h-1.5zM294.09 297.19h1.5v1.5h-1.5zM296.57 297.19h1.5v1.5h-1.5zM299.05 297.19h1.5v1.5h-1.5zM301.53 297.19h1.5v1.5h-1.5zM326.33 297.19h1.5v1.5h-1.5zM328.81 297.19h1.5v1.5h-1.5zM331.29 297.19h1.5v1.5h-1.5zM333.77 297.19h1.5v1.5h-1.5zM336.25 297.19h1.5v1.5h-1.5zM338.73 297.19h1.5v1.5h-1.5zM341.21 297.19h1.5v1.5h-1.5zM343.69 297.19h1.5v1.5h-1.5zM346.17 297.19h1.5v1.5h-1.5zM348.65 297.19h1.5v1.5h-1.5zM351.13 297.19h1.5v1.5h-1.5zM353.61 297.19h1.5v1.5h-1.5zM356.09 297.19h1.5v1.5h-1.5zM358.57 297.19h1.5v1.5h-1.5zM361.05 297.19h1.5v1.5h-1.5zM363.53 297.19h1.5v1.5h-1.5zM366.01 297.19h1.5v1.5h-1.5zM368.49 297.19h1.5v1.5h-1.5zM370.97 297.19h1.5v1.5h-1.5zM373.45 297.19h1.5v1.5h-1.5zM375.93 297.19h1.5v1.5h-1.5zM378.41 297.19h1.5v1.5h-1.5zM380.89 297.19h1.5v1.5h-1.5zM383.37 297.19h1.5v1.5h-1.5zM385.85 297.19h1.5v1.5h-1.5zM388.33 297.19h1.5v1.5h-1.5zM390.81 297.19h1.5v1.5h-1.5zM393.29 297.19h1.5v1.5h-1.5zM395.77 297.19h1.5v1.5h-1.5zM398.25 297.19h1.5v1.5h-1.5zM400.73 297.19h1.5v1.5h-1.5zM403.21 297.19h1.5v1.5h-1.5zM405.69 297.19h1.5v1.5h-1.5zM408.17 297.19h1.5v1.5h-1.5zM410.65 297.19h1.5v1.5h-1.5zM413.13 297.19h1.5v1.5h-1.5zM415.61 297.19h1.5v1.5h-1.5zM423.05 297.19h1.5v1.5h-1.5zM259.37 299.67h1.5v1.5h-1.5zM261.85 299.67h1.5v1.5h-1.5zM264.33 299.67h1.5v1.5h-1.5zM266.81 299.67h1.5v1.5h-1.5zM269.29 299.67h1.5v1.5h-1.5zM271.77 299.67h1.5v1.5h-1.5zM274.25 299.67h1.5v1.5h-1.5zM276.73 299.67h1.5v1.5h-1.5zM279.21 299.67h1.5v1.5h-1.5zM281.69 299.67h1.5v1.5h-1.5zM284.17 299.67h1.5v1.5h-1.5zM286.65 299.67h1.5v1.5h-1.5zM289.13 299.67h1.5v1.5h-1.5zM291.61 299.67h1.5v1.5h-1.5zM294.09 299.67h1.5v1.5h-1.5zM296.57 299.67h1.5v1.5h-1.5zM299.05 299.67h1.5v1.5h-1.5zM301.53 299.67h1.5v1.5h-1.5zM328.81 299.67h1.5v1.5h-1.5zM331.29 299.67h1.5v1.5h-1.5zM333.77 299.67h1.5v1.5h-1.5zM336.25 299.67h1.5v1.5h-1.5zM338.73 299.67h1.5v1.5h-1.5zM341.21 299.67h1.5v1.5h-1.5zM343.69 299.67h1.5v1.5h-1.5zM346.17 299.67h1.5v1.5h-1.5zM348.65 299.67h1.5v1.5h-1.5zM351.13 299.67h1.5v1.5h-1.5zM353.61 299.67h1.5v1.5h-1.5zM356.09 299.67h1.5v1.5h-1.5zM358.57 299.67h1.5v1.5h-1.5zM361.05 299.67h1.5v1.5h-1.5zM363.53 299.67h1.5v1.5h-1.5zM366.01 299.67h1.5v1.5h-1.5zM368.49 299.67h1.5v1.5h-1.5zM370.97 299.67h1.5v1.5h-1.5zM373.45 299.67h1.5v1.5h-1.5zM375.93 299.67h1.5v1.5h-1.5zM378.41 299.67h1.5v1.5h-1.5zM380.89 299.67h1.5v1.5h-1.5zM383.37 299.67h1.5v1.5h-1.5zM385.85 299.67h1.5v1.5h-1.5zM388.33 299.67h1.5v1.5h-1.5zM390.81 299.67h1.5v1.5h-1.5zM393.29 299.67h1.5v1.5h-1.5zM395.77 299.67h1.5v1.5h-1.5zM398.25 299.67h1.5v1.5h-1.5zM400.73 299.67h1.5v1.5h-1.5zM403.21 299.67h1.5v1.5h-1.5zM405.69 299.67h1.5v1.5h-1.5zM408.17 299.67h1.5v1.5h-1.5zM410.65 299.67h1.5v1.5h-1.5zM413.13 299.67h1.5v1.5h-1.5zM415.61 299.67h1.5v1.5h-1.5zM261.85 302.15h1.5v1.5h-1.5zM264.33 302.15h1.5v1.5h-1.5zM266.81 302.15h1.5v1.5h-1.5zM269.29 302.15h1.5v1.5h-1.5zM271.77 302.15h1.5v1.5h-1.5zM274.25 302.15h1.5v1.5h-1.5zM276.73 302.15h1.5v1.5h-1.5zM279.21 302.15h1.5v1.5h-1.5zM281.69 302.15h1.5v1.5h-1.5zM284.17 302.15h1.5v1.5h-1.5zM286.65 302.15h1.5v1.5h-1.5zM289.13 302.15h1.5v1.5h-1.5zM291.61 302.15h1.5v1.5h-1.5zM294.09 302.15h1.5v1.5h-1.5zM296.57 302.15h1.5v1.5h-1.5zM328.81 302.15h1.5v1.5h-1.5zM331.29 302.15h1.5v1.5h-1.5zM333.77 302.15h1.5v1.5h-1.5zM336.25 302.15h1.5v1.5h-1.5zM338.73 302.15h1.5v1.5h-1.5zM341.21 302.15h1.5v1.5h-1.5zM343.69 302.15h1.5v1.5h-1.5zM346.17 302.15h1.5v1.5h-1.5zM348.65 302.15h1.5v1.5h-1.5zM351.13 302.15h1.5v1.5h-1.5zM353.61 302.15h1.5v1.5h-1.5zM356.09 302.15h1.5v1.5h-1.5zM358.57 302.15h1.5v1.5h-1.5zM361.05 302.15h1.5v1.5h-1.5zM363.53 302.15h1.5v1.5h-1.5zM366.01 302.15h1.5v1.5h-1.5zM368.49 302.15h1.5v1.5h-1.5zM370.97 302.15h1.5v1.5h-1.5zM373.45 302.15h1.5v1.5h-1.5zM375.93 302.15h1.5v1.5h-1.5zM378.41 302.15h1.5v1.5h-1.5zM380.89 302.15h1.5v1.5h-1.5zM383.37 302.15h1.5v1.5h-1.5zM385.85 302.15h1.5v1.5h-1.5zM388.33 302.15h1.5v1.5h-1.5zM390.81 302.15h1.5v1.5h-1.5zM393.29 302.15h1.5v1.5h-1.5zM395.77 302.15h1.5v1.5h-1.5zM398.25 302.15h1.5v1.5h-1.5zM400.73 302.15h1.5v1.5h-1.5zM403.21 302.15h1.5v1.5h-1.5zM405.69 302.15h1.5v1.5h-1.5zM408.17 302.15h1.5v1.5h-1.5zM410.65 302.15h1.5v1.5h-1.5zM413.13 302.15h1.5v1.5h-1.5zM261.85 304.63h1.5v1.5h-1.5zM264.33 304.63h1.5v1.5h-1.5zM266.81 304.63h1.5v1.5h-1.5zM269.29 304.63h1.5v1.5h-1.5zM271.77 304.63h1.5v1.5h-1.5zM274.25 304.63h1.5v1.5h-1.5zM276.73 304.63h1.5v1.5h-1.5zM279.21 304.63h1.5v1.5h-1.5zM281.69 304.63h1.5v1.5h-1.5zM284.17 304.63h1.5v1.5h-1.5zM286.65 304.63h1.5v1.5h-1.5zM289.13 304.63h1.5v1.5h-1.5zM291.61 304.63h1.5v1.5h-1.5zM328.81 304.63h1.5v1.5h-1.5zM331.29 304.63h1.5v1.5h-1.5zM333.77 304.63h1.5v1.5h-1.5zM336.25 304.63h1.5v1.5h-1.5zM338.73 304.63h1.5v1.5h-1.5zM341.21 304.63h1.5v1.5h-1.5zM343.69 304.63h1.5v1.5h-1.5zM346.17 304.63h1.5v1.5h-1.5zM351.13 304.63h1.5v1.5h-1.5zM353.61 304.63h1.5v1.5h-1.5zM356.09 304.63h1.5v1.5h-1.5zM358.57 304.63h1.5v1.5h-1.5zM361.05 304.63h1.5v1.5h-1.5zM363.53 304.63h1.5v1.5h-1.5zM366.01 304.63h1.5v1.5h-1.5zM368.49 304.63h1.5v1.5h-1.5zM370.97 304.63h1.5v1.5h-1.5zM373.45 304.63h1.5v1.5h-1.5zM375.93 304.63h1.5v1.5h-1.5zM378.41 304.63h1.5v1.5h-1.5zM380.89 304.63h1.5v1.5h-1.5zM383.37 304.63h1.5v1.5h-1.5zM385.85 304.63h1.5v1.5h-1.5zM388.33 304.63h1.5v1.5h-1.5zM390.81 304.63h1.5v1.5h-1.5zM393.29 304.63h1.5v1.5h-1.5zM395.77 304.63h1.5v1.5h-1.5zM398.25 304.63h1.5v1.5h-1.5zM400.73 304.63h1.5v1.5h-1.5zM403.21 304.63h1.5v1.5h-1.5zM405.69 304.63h1.5v1.5h-1.5zM413.13 304.63h1.5v1.5h-1.5zM415.61 304.63h1.5v1.5h-1.5zM261.85 307.11h1.5v1.5h-1.5zM264.33 307.11h1.5v1.5h-1.5zM266.81 307.11h1.5v1.5h-1.5zM269.29 307.11h1.5v1.5h-1.5zM271.77 307.11h1.5v1.5h-1.5zM274.25 307.11h1.5v1.5h-1.5zM276.73 307.11h1.5v1.5h-1.5zM279.21 307.11h1.5v1.5h-1.5zM281.69 307.11h1.5v1.5h-1.5zM284.17 307.11h1.5v1.5h-1.5zM286.65 307.11h1.5v1.5h-1.5zM289.13 307.11h1.5v1.5h-1.5zM326.33 307.11h1.5v1.5h-1.5zM328.81 307.11h1.5v1.5h-1.5zM331.29 307.11h1.5v1.5h-1.5zM333.77 307.11h1.5v1.5h-1.5zM341.21 307.11h1.5v1.5h-1.5zM343.69 307.11h1.5v1.5h-1.5zM346.17 307.11h1.5v1.5h-1.5zM348.65 307.11h1.5v1.5h-1.5zM351.13 307.11h1.5v1.5h-1.5zM353.61 307.11h1.5v1.5h-1.5zM356.09 307.11h1.5v1.5h-1.5zM358.57 307.11h1.5v1.5h-1.5zM363.53 307.11h1.5v1.5h-1.5zM366.01 307.11h1.5v1.5h-1.5zM368.49 307.11h1.5v1.5h-1.5zM370.97 307.11h1.5v1.5h-1.5zM373.45 307.11h1.5v1.5h-1.5zM375.93 307.11h1.5v1.5h-1.5zM378.41 307.11h1.5v1.5h-1.5zM380.89 307.11h1.5v1.5h-1.5zM383.37 307.11h1.5v1.5h-1.5zM385.85 307.11h1.5v1.5h-1.5zM388.33 307.11h1.5v1.5h-1.5zM390.81 307.11h1.5v1.5h-1.5zM393.29 307.11h1.5v1.5h-1.5zM395.77 307.11h1.5v1.5h-1.5zM398.25 307.11h1.5v1.5h-1.5zM400.73 307.11h1.5v1.5h-1.5zM403.21 307.11h1.5v1.5h-1.5zM405.69 307.11h1.5v1.5h-1.5zM413.13 307.11h1.5v1.5h-1.5zM264.33 309.59h1.5v1.5h-1.5zM266.81 309.59h1.5v1.5h-1.5zM269.29 309.59h1.5v1.5h-1.5zM271.77 309.59h1.5v1.5h-1.5zM274.25 309.59h1.5v1.5h-1.5zM276.73 309.59h1.5v1.5h-1.5zM279.21 309.59h1.5v1.5h-1.5zM281.69 309.59h1.5v1.5h-1.5zM284.17 309.59h1.5v1.5h-1.5zM286.65 309.59h1.5v1.5h-1.5zM289.13 309.59h1.5v1.5h-1.5zM328.81 309.59h1.5v1.5h-1.5zM331.29 309.59h1.5v1.5h-1.5zM333.77 309.59h1.5v1.5h-1.5zM336.25 309.59h1.5v1.5h-1.5zM346.17 309.59h1.5v1.5h-1.5zM348.65 309.59h1.5v1.5h-1.5zM351.13 309.59h1.5v1.5h-1.5zM353.61 309.59h1.5v1.5h-1.5zM356.09 309.59h1.5v1.5h-1.5zM358.57 309.59h1.5v1.5h-1.5zM361.05 309.59h1.5v1.5h-1.5zM363.53 309.59h1.5v1.5h-1.5zM366.01 309.59h1.5v1.5h-1.5zM368.49 309.59h1.5v1.5h-1.5zM370.97 309.59h1.5v1.5h-1.5zM373.45 309.59h1.5v1.5h-1.5zM375.93 309.59h1.5v1.5h-1.5zM378.41 309.59h1.5v1.5h-1.5zM380.89 309.59h1.5v1.5h-1.5zM383.37 309.59h1.5v1.5h-1.5zM385.85 309.59h1.5v1.5h-1.5zM388.33 309.59h1.5v1.5h-1.5zM390.81 309.59h1.5v1.5h-1.5zM393.29 309.59h1.5v1.5h-1.5zM395.77 309.59h1.5v1.5h-1.5zM398.25 309.59h1.5v1.5h-1.5zM400.73 309.59h1.5v1.5h-1.5zM405.69 309.59h1.5v1.5h-1.5zM408.17 309.59h1.5v1.5h-1.5zM410.65 309.59h1.5v1.5h-1.5zM413.13 309.59h1.5v1.5h-1.5zM266.81 312.07h1.5v1.5h-1.5zM269.29 312.07h1.5v1.5h-1.5zM271.77 312.07h1.5v1.5h-1.5zM274.25 312.07h1.5v1.5h-1.5zM276.73 312.07h1.5v1.5h-1.5zM279.21 312.07h1.5v1.5h-1.5zM281.69 312.07h1.5v1.5h-1.5zM284.17 312.07h1.5v1.5h-1.5zM286.65 312.07h1.5v1.5h-1.5zM326.33 312.07h1.5v1.5h-1.5zM328.81 312.07h1.5v1.5h-1.5zM331.29 312.07h1.5v1.5h-1.5zM333.77 312.07h1.5v1.5h-1.5zM336.25 312.07h1.5v1.5h-1.5zM338.73 312.07h1.5v1.5h-1.5zM341.21 312.07h1.5v1.5h-1.5zM343.69 312.07h1.5v1.5h-1.5zM346.17 312.07h1.5v1.5h-1.5zM348.65 312.07h1.5v1.5h-1.5zM351.13 312.07h1.5v1.5h-1.5zM353.61 312.07h1.5v1.5h-1.5zM356.09 312.07h1.5v1.5h-1.5zM358.57 312.07h1.5v1.5h-1.5zM361.05 312.07h1.5v1.5h-1.5zM363.53 312.07h1.5v1.5h-1.5zM366.01 312.07h1.5v1.5h-1.5zM368.49 312.07h1.5v1.5h-1.5zM370.97 312.07h1.5v1.5h-1.5zM373.45 312.07h1.5v1.5h-1.5zM375.93 312.07h1.5v1.5h-1.5zM378.41 312.07h1.5v1.5h-1.5zM380.89 312.07h1.5v1.5h-1.5zM383.37 312.07h1.5v1.5h-1.5zM385.85 312.07h1.5v1.5h-1.5zM388.33 312.07h1.5v1.5h-1.5zM390.81 312.07h1.5v1.5h-1.5zM393.29 312.07h1.5v1.5h-1.5zM395.77 312.07h1.5v1.5h-1.5zM398.25 312.07h1.5v1.5h-1.5zM400.73 312.07h1.5v1.5h-1.5zM405.69 312.07h1.5v1.5h-1.5zM408.17 312.07h1.5v1.5h-1.5zM266.81 314.55h1.5v1.5h-1.5zM269.29 314.55h1.5v1.5h-1.5zM271.77 314.55h1.5v1.5h-1.5zM274.25 314.55h1.5v1.5h-1.5zM276.73 314.55h1.5v1.5h-1.5zM286.65 314.55h1.5v1.5h-1.5zM323.85 314.55h1.5v1.5h-1.5zM326.33 314.55h1.5v1.5h-1.5zM328.81 314.55h1.5v1.5h-1.5zM331.29 314.55h1.5v1.5h-1.5zM333.77 314.55h1.5v1.5h-1.5zM336.25 314.55h1.5v1.5h-1.5zM338.73 314.55h1.5v1.5h-1.5zM341.21 314.55h1.5v1.5h-1.5zM343.69 314.55h1.5v1.5h-1.5zM346.17 314.55h1.5v1.5h-1.5zM348.65 314.55h1.5v1.5h-1.5zM351.13 314.55h1.5v1.5h-1.5zM353.61 314.55h1.5v1.5h-1.5zM356.09 314.55h1.5v1.5h-1.5zM358.57 314.55h1.5v1.5h-1.5zM361.05 314.55h1.5v1.5h-1.5zM363.53 314.55h1.5v1.5h-1.5zM366.01 314.55h1.5v1.5h-1.5zM368.49 314.55h1.5v1.5h-1.5zM370.97 314.55h1.5v1.5h-1.5zM373.45 314.55h1.5v1.5h-1.5zM375.93 314.55h1.5v1.5h-1.5zM378.41 314.55h1.5v1.5h-1.5zM380.89 314.55h1.5v1.5h-1.5zM383.37 314.55h1.5v1.5h-1.5zM385.85 314.55h1.5v1.5h-1.5zM388.33 314.55h1.5v1.5h-1.5zM390.81 314.55h1.5v1.5h-1.5zM393.29 314.55h1.5v1.5h-1.5zM395.77 314.55h1.5v1.5h-1.5zM398.25 314.55h1.5v1.5h-1.5zM400.73 314.55h1.5v1.5h-1.5zM269.29 317.03h1.5v1.5h-1.5zM271.77 317.03h1.5v1.5h-1.5zM274.25 317.03h1.5v1.5h-1.5zM276.73 317.03h1.5v1.5h-1.5zM286.65 317.03h1.5v1.5h-1.5zM323.85 317.03h1.5v1.5h-1.5zM326.33 317.03h1.5v1.5h-1.5zM328.81 317.03h1.5v1.5h-1.5zM331.29 317.03h1.5v1.5h-1.5zM333.77 317.03h1.5v1.5h-1.5zM336.25 317.03h1.5v1.5h-1.5zM338.73 317.03h1.5v1.5h-1.5zM341.21 317.03h1.5v1.5h-1.5zM343.69 317.03h1.5v1.5h-1.5zM346.17 317.03h1.5v1.5h-1.5zM348.65 317.03h1.5v1.5h-1.5zM351.13 317.03h1.5v1.5h-1.5zM353.61 317.03h1.5v1.5h-1.5zM356.09 317.03h1.5v1.5h-1.5zM358.57 317.03h1.5v1.5h-1.5zM361.05 317.03h1.5v1.5h-1.5zM363.53 317.03h1.5v1.5h-1.5zM366.01 317.03h1.5v1.5h-1.5zM368.49 317.03h1.5v1.5h-1.5zM370.97 317.03h1.5v1.5h-1.5zM373.45 317.03h1.5v1.5h-1.5zM375.93 317.03h1.5v1.5h-1.5zM378.41 317.03h1.5v1.5h-1.5zM380.89 317.03h1.5v1.5h-1.5zM383.37 317.03h1.5v1.5h-1.5zM385.85 317.03h1.5v1.5h-1.5zM388.33 317.03h1.5v1.5h-1.5zM390.81 317.03h1.5v1.5h-1.5zM393.29 317.03h1.5v1.5h-1.5zM395.77 317.03h1.5v1.5h-1.5zM398.25 317.03h1.5v1.5h-1.5zM400.73 317.03h1.5v1.5h-1.5zM271.77 319.51h1.5v1.5h-1.5zM274.25 319.51h1.5v1.5h-1.5zM276.73 319.51h1.5v1.5h-1.5zM279.21 319.51h1.5v1.5h-1.5zM281.69 319.51h1.5v1.5h-1.5zM284.17 319.51h1.5v1.5h-1.5zM286.65 319.51h1.5v1.5h-1.5zM289.13 319.51h1.5v1.5h-1.5zM291.61 319.51h1.5v1.5h-1.5zM294.09 319.51h1.5v1.5h-1.5zM321.37 319.51h1.5v1.5h-1.5zM323.85 319.51h1.5v1.5h-1.5zM326.33 319.51h1.5v1.5h-1.5zM328.81 319.51h1.5v1.5h-1.5zM331.29 319.51h1.5v1.5h-1.5zM333.77 319.51h1.5v1.5h-1.5zM336.25 319.51h1.5v1.5h-1.5zM338.73 319.51h1.5v1.5h-1.5zM341.21 319.51h1.5v1.5h-1.5zM343.69 319.51h1.5v1.5h-1.5zM346.17 319.51h1.5v1.5h-1.5zM348.65 319.51h1.5v1.5h-1.5zM351.13 319.51h1.5v1.5h-1.5zM353.61 319.51h1.5v1.5h-1.5zM356.09 319.51h1.5v1.5h-1.5zM358.57 319.51h1.5v1.5h-1.5zM361.05 319.51h1.5v1.5h-1.5zM363.53 319.51h1.5v1.5h-1.5zM366.01 319.51h1.5v1.5h-1.5zM370.97 319.51h1.5v1.5h-1.5zM373.45 319.51h1.5v1.5h-1.5zM375.93 319.51h1.5v1.5h-1.5zM378.41 319.51h1.5v1.5h-1.5zM380.89 319.51h1.5v1.5h-1.5zM383.37 319.51h1.5v1.5h-1.5zM385.85 319.51h1.5v1.5h-1.5zM388.33 319.51h1.5v1.5h-1.5zM390.81 319.51h1.5v1.5h-1.5zM393.29 319.51h1.5v1.5h-1.5zM395.77 319.51h1.5v1.5h-1.5zM276.73 321.99h1.5v1.5h-1.5zM279.21 321.99h1.5v1.5h-1.5zM281.69 321.99h1.5v1.5h-1.5zM284.17 321.99h1.5v1.5h-1.5zM286.65 321.99h1.5v1.5h-1.5zM289.13 321.99h1.5v1.5h-1.5zM321.37 321.99h1.5v1.5h-1.5zM323.85 321.99h1.5v1.5h-1.5zM326.33 321.99h1.5v1.5h-1.5zM328.81 321.99h1.5v1.5h-1.5zM331.29 321.99h1.5v1.5h-1.5zM333.77 321.99h1.5v1.5h-1.5zM336.25 321.99h1.5v1.5h-1.5zM338.73 321.99h1.5v1.5h-1.5zM341.21 321.99h1.5v1.5h-1.5zM343.69 321.99h1.5v1.5h-1.5zM346.17 321.99h1.5v1.5h-1.5zM348.65 321.99h1.5v1.5h-1.5zM351.13 321.99h1.5v1.5h-1.5zM353.61 321.99h1.5v1.5h-1.5zM356.09 321.99h1.5v1.5h-1.5zM358.57 321.99h1.5v1.5h-1.5zM361.05 321.99h1.5v1.5h-1.5zM363.53 321.99h1.5v1.5h-1.5zM373.45 321.99h1.5v1.5h-1.5zM375.93 321.99h1.5v1.5h-1.5zM378.41 321.99h1.5v1.5h-1.5zM385.85 321.99h1.5v1.5h-1.5zM388.33 321.99h1.5v1.5h-1.5zM390.81 321.99h1.5v1.5h-1.5zM393.29 321.99h1.5v1.5h-1.5zM400.73 321.99h1.5v1.5h-1.5zM403.21 321.99h1.5v1.5h-1.5zM284.17 324.47h1.5v1.5h-1.5zM286.65 324.47h1.5v1.5h-1.5zM289.13 324.47h1.5v1.5h-1.5zM291.61 324.47h1.5v1.5h-1.5zM294.09 324.47h1.5v1.5h-1.5zM296.57 324.47h1.5v1.5h-1.5zM323.85 324.47h1.5v1.5h-1.5zM326.33 324.47h1.5v1.5h-1.5zM328.81 324.47h1.5v1.5h-1.5zM331.29 324.47h1.5v1.5h-1.5zM333.77 324.47h1.5v1.5h-1.5zM336.25 324.47h1.5v1.5h-1.5zM338.73 324.47h1.5v1.5h-1.5zM341.21 324.47h1.5v1.5h-1.5zM343.69 324.47h1.5v1.5h-1.5zM346.17 324.47h1.5v1.5h-1.5zM348.65 324.47h1.5v1.5h-1.5zM351.13 324.47h1.5v1.5h-1.5zM353.61 324.47h1.5v1.5h-1.5zM356.09 324.47h1.5v1.5h-1.5zM358.57 324.47h1.5v1.5h-1.5zM361.05 324.47h1.5v1.5h-1.5zM375.93 324.47h1.5v1.5h-1.5zM378.41 324.47h1.5v1.5h-1.5zM388.33 324.47h1.5v1.5h-1.5zM390.81 324.47h1.5v1.5h-1.5zM393.29 324.47h1.5v1.5h-1.5zM403.21 324.47h1.5v1.5h-1.5zM286.65 326.95h1.5v1.5h-1.5zM289.13 326.95h1.5v1.5h-1.5zM291.61 326.95h1.5v1.5h-1.5zM294.09 326.95h1.5v1.5h-1.5zM296.57 326.95h1.5v1.5h-1.5zM299.05 326.95h1.5v1.5h-1.5zM301.53 326.95h1.5v1.5h-1.5zM323.85 326.95h1.5v1.5h-1.5zM326.33 326.95h1.5v1.5h-1.5zM328.81 326.95h1.5v1.5h-1.5zM331.29 326.95h1.5v1.5h-1.5zM333.77 326.95h1.5v1.5h-1.5zM336.25 326.95h1.5v1.5h-1.5zM338.73 326.95h1.5v1.5h-1.5zM341.21 326.95h1.5v1.5h-1.5zM343.69 326.95h1.5v1.5h-1.5zM346.17 326.95h1.5v1.5h-1.5zM348.65 326.95h1.5v1.5h-1.5zM351.13 326.95h1.5v1.5h-1.5zM353.61 326.95h1.5v1.5h-1.5zM356.09 326.95h1.5v1.5h-1.5zM358.57 326.95h1.5v1.5h-1.5zM361.05 326.95h1.5v1.5h-1.5zM375.93 326.95h1.5v1.5h-1.5zM378.41 326.95h1.5v1.5h-1.5zM388.33 326.95h1.5v1.5h-1.5zM398.25 326.95h1.5v1.5h-1.5zM403.21 326.95h1.5v1.5h-1.5zM289.13 329.43h1.5v1.5h-1.5zM291.61 329.43h1.5v1.5h-1.5zM294.09 329.43h1.5v1.5h-1.5zM296.57 329.43h1.5v1.5h-1.5zM299.05 329.43h1.5v1.5h-1.5zM301.53 329.43h1.5v1.5h-1.5zM304.01 329.43h1.5v1.5h-1.5zM326.33 329.43h1.5v1.5h-1.5zM328.81 329.43h1.5v1.5h-1.5zM331.29 329.43h1.5v1.5h-1.5zM336.25 329.43h1.5v1.5h-1.5zM338.73 329.43h1.5v1.5h-1.5zM341.21 329.43h1.5v1.5h-1.5zM343.69 329.43h1.5v1.5h-1.5zM346.17 329.43h1.5v1.5h-1.5zM348.65 329.43h1.5v1.5h-1.5zM351.13 329.43h1.5v1.5h-1.5zM353.61 329.43h1.5v1.5h-1.5zM356.09 329.43h1.5v1.5h-1.5zM358.57 329.43h1.5v1.5h-1.5zM388.33 329.43h1.5v1.5h-1.5zM390.81 329.43h1.5v1.5h-1.5zM395.77 329.43h1.5v1.5h-1.5zM398.25 329.43h1.5v1.5h-1.5zM400.73 329.43h1.5v1.5h-1.5zM286.65 331.91h1.5v1.5h-1.5zM289.13 331.91h1.5v1.5h-1.5zM291.61 331.91h1.5v1.5h-1.5zM294.09 331.91h1.5v1.5h-1.5zM296.57 331.91h1.5v1.5h-1.5zM299.05 331.91h1.5v1.5h-1.5zM301.53 331.91h1.5v1.5h-1.5zM304.01 331.91h1.5v1.5h-1.5zM306.49 331.91h1.5v1.5h-1.5zM308.97 331.91h1.5v1.5h-1.5zM311.45 331.91h1.5v1.5h-1.5zM338.73 331.91h1.5v1.5h-1.5zM341.21 331.91h1.5v1.5h-1.5zM343.69 331.91h1.5v1.5h-1.5zM346.17 331.91h1.5v1.5h-1.5zM348.65 331.91h1.5v1.5h-1.5zM351.13 331.91h1.5v1.5h-1.5zM353.61 331.91h1.5v1.5h-1.5zM356.09 331.91h1.5v1.5h-1.5zM388.33 331.91h1.5v1.5h-1.5zM390.81 331.91h1.5v1.5h-1.5zM393.29 331.91h1.5v1.5h-1.5zM395.77 331.91h1.5v1.5h-1.5zM398.25 331.91h1.5v1.5h-1.5zM400.73 331.91h1.5v1.5h-1.5zM405.69 331.91h1.5v1.5h-1.5zM408.17 331.91h1.5v1.5h-1.5zM410.65 331.91h1.5v1.5h-1.5zM286.65 334.39h1.5v1.5h-1.5zM289.13 334.39h1.5v1.5h-1.5zM291.61 334.39h1.5v1.5h-1.5zM294.09 334.39h1.5v1.5h-1.5zM296.57 334.39h1.5v1.5h-1.5zM299.05 334.39h1.5v1.5h-1.5zM301.53 334.39h1.5v1.5h-1.5zM304.01 334.39h1.5v1.5h-1.5zM306.49 334.39h1.5v1.5h-1.5zM308.97 334.39h1.5v1.5h-1.5zM311.45 334.39h1.5v1.5h-1.5zM313.93 334.39h1.5v1.5h-1.5zM338.73 334.39h1.5v1.5h-1.5zM341.21 334.39h1.5v1.5h-1.5zM343.69 334.39h1.5v1.5h-1.5zM346.17 334.39h1.5v1.5h-1.5zM348.65 334.39h1.5v1.5h-1.5zM351.13 334.39h1.5v1.5h-1.5zM353.61 334.39h1.5v1.5h-1.5zM390.81 334.39h1.5v1.5h-1.5zM393.29 334.39h1.5v1.5h-1.5zM395.77 334.39h1.5v1.5h-1.5zM398.25 334.39h1.5v1.5h-1.5zM400.73 334.39h1.5v1.5h-1.5zM403.21 334.39h1.5v1.5h-1.5zM405.69 334.39h1.5v1.5h-1.5zM410.65 334.39h1.5v1.5h-1.5zM413.13 334.39h1.5v1.5h-1.5zM415.61 334.39h1.5v1.5h-1.5zM418.09 334.39h1.5v1.5h-1.5zM420.57 334.39h1.5v1.5h-1.5zM289.13 336.87h1.5v1.5h-1.5zM291.61 336.87h1.5v1.5h-1.5zM294.09 336.87h1.5v1.5h-1.5zM296.57 336.87h1.5v1.5h-1.5zM299.05 336.87h1.5v1.5h-1.5zM301.53 336.87h1.5v1.5h-1.5zM304.01 336.87h1.5v1.5h-1.5zM306.49 336.87h1.5v1.5h-1.5zM308.97 336.87h1.5v1.5h-1.5zM311.45 336.87h1.5v1.5h-1.5zM313.93 336.87h1.5v1.5h-1.5zM338.73 336.87h1.5v1.5h-1.5zM341.21 336.87h1.5v1.5h-1.5zM343.69 336.87h1.5v1.5h-1.5zM346.17 336.87h1.5v1.5h-1.5zM348.65 336.87h1.5v1.5h-1.5zM351.13 336.87h1.5v1.5h-1.5zM353.61 336.87h1.5v1.5h-1.5zM393.29 336.87h1.5v1.5h-1.5zM395.77 336.87h1.5v1.5h-1.5zM398.25 336.87h1.5v1.5h-1.5zM400.73 336.87h1.5v1.5h-1.5zM403.21 336.87h1.5v1.5h-1.5zM405.69 336.87h1.5v1.5h-1.5zM410.65 336.87h1.5v1.5h-1.5zM413.13 336.87h1.5v1.5h-1.5zM415.61 336.87h1.5v1.5h-1.5zM418.09 336.87h1.5v1.5h-1.5zM423.05 336.87h1.5v1.5h-1.5zM289.13 339.35h1.5v1.5h-1.5zM291.61 339.35h1.5v1.5h-1.5zM294.09 339.35h1.5v1.5h-1.5zM296.57 339.35h1.5v1.5h-1.5zM299.05 339.35h1.5v1.5h-1.5zM301.53 339.35h1.5v1.5h-1.5zM304.01 339.35h1.5v1.5h-1.5zM306.49 339.35h1.5v1.5h-1.5zM308.97 339.35h1.5v1.5h-1.5zM311.45 339.35h1.5v1.5h-1.5zM338.73 339.35h1.5v1.5h-1.5zM341.21 339.35h1.5v1.5h-1.5zM343.69 339.35h1.5v1.5h-1.5zM346.17 339.35h1.5v1.5h-1.5zM348.65 339.35h1.5v1.5h-1.5zM351.13 339.35h1.5v1.5h-1.5zM353.61 339.35h1.5v1.5h-1.5zM358.57 339.35h1.5v1.5h-1.5zM361.05 339.35h1.5v1.5h-1.5zM405.69 339.35h1.5v1.5h-1.5zM408.17 339.35h1.5v1.5h-1.5zM410.65 339.35h1.5v1.5h-1.5zM413.13 339.35h1.5v1.5h-1.5zM415.61 339.35h1.5v1.5h-1.5zM291.61 341.83h1.5v1.5h-1.5zM294.09 341.83h1.5v1.5h-1.5zM296.57 341.83h1.5v1.5h-1.5zM299.05 341.83h1.5v1.5h-1.5zM301.53 341.83h1.5v1.5h-1.5zM304.01 341.83h1.5v1.5h-1.5zM306.49 341.83h1.5v1.5h-1.5zM308.97 341.83h1.5v1.5h-1.5zM311.45 341.83h1.5v1.5h-1.5zM338.73 341.83h1.5v1.5h-1.5zM341.21 341.83h1.5v1.5h-1.5zM343.69 341.83h1.5v1.5h-1.5zM346.17 341.83h1.5v1.5h-1.5zM348.65 341.83h1.5v1.5h-1.5zM351.13 341.83h1.5v1.5h-1.5zM353.61 341.83h1.5v1.5h-1.5zM358.57 341.83h1.5v1.5h-1.5zM361.05 341.83h1.5v1.5h-1.5zM403.21 341.83h1.5v1.5h-1.5zM405.69 341.83h1.5v1.5h-1.5zM408.17 341.83h1.5v1.5h-1.5zM410.65 341.83h1.5v1.5h-1.5zM413.13 341.83h1.5v1.5h-1.5zM415.61 341.83h1.5v1.5h-1.5zM291.61 344.31h1.5v1.5h-1.5zM294.09 344.31h1.5v1.5h-1.5zM296.57 344.31h1.5v1.5h-1.5zM299.05 344.31h1.5v1.5h-1.5zM301.53 344.31h1.5v1.5h-1.5zM304.01 344.31h1.5v1.5h-1.5zM306.49 344.31h1.5v1.5h-1.5zM308.97 344.31h1.5v1.5h-1.5zM338.73 344.31h1.5v1.5h-1.5zM341.21 344.31h1.5v1.5h-1.5zM343.69 344.31h1.5v1.5h-1.5zM346.17 344.31h1.5v1.5h-1.5zM348.65 344.31h1.5v1.5h-1.5zM351.13 344.31h1.5v1.5h-1.5zM358.57 344.31h1.5v1.5h-1.5zM398.25 344.31h1.5v1.5h-1.5zM400.73 344.31h1.5v1.5h-1.5zM403.21 344.31h1.5v1.5h-1.5zM405.69 344.31h1.5v1.5h-1.5zM408.17 344.31h1.5v1.5h-1.5zM410.65 344.31h1.5v1.5h-1.5zM413.13 344.31h1.5v1.5h-1.5zM415.61 344.31h1.5v1.5h-1.5zM418.09 344.31h1.5v1.5h-1.5zM428.01 344.31h1.5v1.5h-1.5zM430.49 344.31h1.5v1.5h-1.5zM291.61 346.79h1.5v1.5h-1.5zM294.09 346.79h1.5v1.5h-1.5zM296.57 346.79h1.5v1.5h-1.5zM299.05 346.79h1.5v1.5h-1.5zM301.53 346.79h1.5v1.5h-1.5zM304.01 346.79h1.5v1.5h-1.5zM341.21 346.79h1.5v1.5h-1.5zM343.69 346.79h1.5v1.5h-1.5zM346.17 346.79h1.5v1.5h-1.5zM348.65 346.79h1.5v1.5h-1.5zM351.13 346.79h1.5v1.5h-1.5zM398.25 346.79h1.5v1.5h-1.5zM400.73 346.79h1.5v1.5h-1.5zM403.21 346.79h1.5v1.5h-1.5zM405.69 346.79h1.5v1.5h-1.5zM408.17 346.79h1.5v1.5h-1.5zM410.65 346.79h1.5v1.5h-1.5zM413.13 346.79h1.5v1.5h-1.5zM415.61 346.79h1.5v1.5h-1.5zM418.09 346.79h1.5v1.5h-1.5zM420.57 346.79h1.5v1.5h-1.5zM430.49 346.79h1.5v1.5h-1.5zM291.61 349.27h1.5v1.5h-1.5zM294.09 349.27h1.5v1.5h-1.5zM296.57 349.27h1.5v1.5h-1.5zM299.05 349.27h1.5v1.5h-1.5zM301.53 349.27h1.5v1.5h-1.5zM304.01 349.27h1.5v1.5h-1.5zM341.21 349.27h1.5v1.5h-1.5zM343.69 349.27h1.5v1.5h-1.5zM346.17 349.27h1.5v1.5h-1.5zM348.65 349.27h1.5v1.5h-1.5zM398.25 349.27h1.5v1.5h-1.5zM400.73 349.27h1.5v1.5h-1.5zM403.21 349.27h1.5v1.5h-1.5zM405.69 349.27h1.5v1.5h-1.5zM408.17 349.27h1.5v1.5h-1.5zM410.65 349.27h1.5v1.5h-1.5zM413.13 349.27h1.5v1.5h-1.5zM415.61 349.27h1.5v1.5h-1.5zM418.09 349.27h1.5v1.5h-1.5zM420.57 349.27h1.5v1.5h-1.5zM291.61 351.75h1.5v1.5h-1.5zM294.09 351.75h1.5v1.5h-1.5zM296.57 351.75h1.5v1.5h-1.5zM299.05 351.75h1.5v1.5h-1.5zM301.53 351.75h1.5v1.5h-1.5zM343.69 351.75h1.5v1.5h-1.5zM346.17 351.75h1.5v1.5h-1.5zM398.25 351.75h1.5v1.5h-1.5zM400.73 351.75h1.5v1.5h-1.5zM403.21 351.75h1.5v1.5h-1.5zM405.69 351.75h1.5v1.5h-1.5zM408.17 351.75h1.5v1.5h-1.5zM410.65 351.75h1.5v1.5h-1.5zM413.13 351.75h1.5v1.5h-1.5zM415.61 351.75h1.5v1.5h-1.5zM418.09 351.75h1.5v1.5h-1.5zM291.61 354.23h1.5v1.5h-1.5zM294.09 354.23h1.5v1.5h-1.5zM296.57 354.23h1.5v1.5h-1.5zM299.05 354.23h1.5v1.5h-1.5zM413.13 354.23h1.5v1.5h-1.5zM415.61 354.23h1.5v1.5h-1.5zM418.09 354.23h1.5v1.5h-1.5zM432.97 354.23h1.5v1.5h-1.5zM435.45 354.23h1.5v1.5h-1.5zM291.61 356.71h1.5v1.5h-1.5zM294.09 356.71h1.5v1.5h-1.5zM296.57 356.71h1.5v1.5h-1.5zM415.61 356.71h1.5v1.5h-1.5zM430.49 356.71h1.5v1.5h-1.5zM432.97 356.71h1.5v1.5h-1.5zM435.45 356.71h1.5v1.5h-1.5zM291.61 359.19h1.5v1.5h-1.5zM294.09 359.19h1.5v1.5h-1.5zM428.01 359.19h1.5v1.5h-1.5zM430.49 359.19h1.5v1.5h-1.5zM291.61 361.67h1.5v1.5h-1.5zM294.09 361.67h1.5v1.5h-1.5zM428.01 361.67h1.5v1.5h-1.5zM430.49 361.67h1.5v1.5h-1.5zM291.61 364.15h1.5v1.5h-1.5zM294.09 364.15h1.5v1.5h-1.5zM299.05 364.15h1.5v1.5h-1.5zM291.61 366.63h1.5v1.5h-1.5zM294.09 366.63h1.5v1.5h-1.5z"/><path d="M265.60 306.10c-.9-1.300-2.850-2.600-2.850-4.400a2.850 2.850 0 0 1 5.700 0c0 1.800-1.950 3.100-2.850 4.400z" fill="#363b57"/><circle cx="265.60" cy="301.70" r="0.8" fill="#c9cee0"/><path d="M290.80 302.90c-.9-1.300-2.850-2.600-2.850-4.400a2.850 2.850 0 0 1 5.700 0c0 1.800-1.950 3.100-2.850 4.400z" fill="#363b57"/><circle cx="290.80" cy="298.50" r="0.8" fill="#c9cee0"/><path d="M333.60 296.70c-.9-1.300-2.850-2.600-2.850-4.400a2.850 2.850 0 0 1 5.700 0c0 1.800-1.950 3.100-2.850 4.400z" fill="#363b57"/><circle cx="333.60" cy="292.30" r="0.8" fill="#c9cee0"/><path d="M306.90 338.50c-.9-1.300-2.850-2.600-2.850-4.400a2.850 2.850 0 0 1 5.700 0c0 1.800-1.950 3.100-2.850 4.400z" fill="#363b57"/><path d="M309.30 338.40c-.9-1.300-2.850-2.600-2.850-4.400a2.850 2.850 0 0 1 5.700 0c0 1.800-1.950 3.100-2.850 4.400z" fill="#363b57"/><circle cx="309.30" cy="334.00" r="0.8" fill="#c9cee0"/></svg>
<div style="position:absolute;left:605.6px;top:254.4px;width:11.4px;height:8.4px;line-height:0;box-shadow:0 0 1.5px rgba(120,130,160,.45)"><svg width="11.4" height="8.4" viewBox="0 0 19 14" preserveAspectRatio="none"><rect width="19" height="14" fill="#fff"/><g fill="#de6471"><rect y="0" width="19" height="1.08"/><rect y="2.15" width="19" height="1.08"/><rect y="4.3" width="19" height="1.08"/><rect y="6.45" width="19" height="1.08"/><rect y="8.6" width="19" height="1.08"/><rect y="10.75" width="19" height="1.08"/><rect y="12.92" width="19" height="1.08"/></g><rect width="8.8" height="7.55" fill="#333f78"/></svg></div>
<div style="position:absolute;top:254px;font-size:9px;line-height:10px;color:#2a2d40;white-space:nowrap;letter-spacing:-0.132px;-webkit-text-stroke:0.12px #2a2d40;left:622.00px;">New York City</div>
<div style="position:absolute;top:255px;font-size:8px;line-height:9px;color:#9b9ea8;white-space:nowrap;letter-spacing:-0.500px;right:156.70px;">1.72%</div>
<div style="position:absolute;left:605.6px;top:277.45px;width:11.4px;height:8.4px;line-height:0;box-shadow:0 0 1.5px rgba(120,130,160,.45)"><svg width="11.4" height="8.4" viewBox="0 0 19 14" preserveAspectRatio="none"><rect width="19" height="14" fill="#fff"/><g fill="#de6471"><rect y="0" width="19" height="1.08"/><rect y="2.15" width="19" height="1.08"/><rect y="4.3" width="19" height="1.08"/><rect y="6.45" width="19" height="1.08"/><rect y="8.6" width="19" height="1.08"/><rect y="10.75" width="19" height="1.08"/><rect y="12.92" width="19" height="1.08"/></g><rect width="8.8" height="7.55" fill="#333f78"/></svg></div>
<div style="position:absolute;top:277px;font-size:9px;line-height:10px;color:#2a2d40;white-space:nowrap;letter-spacing:-0.194px;-webkit-text-stroke:0.12px #2a2d40;left:622.00px;">Los Angeles</div>
<div style="position:absolute;top:278px;font-size:8px;line-height:9px;color:#9b9ea8;white-space:nowrap;letter-spacing:-0.500px;right:156.70px;">1.72%</div>
<div style="position:absolute;left:605.6px;top:300.5px;width:11.4px;height:8.4px;line-height:0;box-shadow:0 0 1.5px rgba(120,130,160,.45)"><svg width="11.4" height="8.4" viewBox="0 0 19 14" preserveAspectRatio="none"><rect width="19" height="14" fill="#25a043"/><path d="M9.5 1.300L17.600 7 9.5 12.700 1.400 7z" fill="#f7d62e"/><circle cx="9.5" cy="7" r="3.400" fill="#2c4aa5"/><path d="M6.300 6.200c2.200-.5 4.600 0 6.400 1.400" stroke="#fff" stroke-width=".7" fill="none"/></svg></div>
<div style="position:absolute;top:300px;font-size:9px;line-height:10px;color:#2a2d40;white-space:nowrap;letter-spacing:-0.148px;-webkit-text-stroke:0.12px #2a2d40;left:622.00px;">São Paulo</div>
<div style="position:absolute;top:301px;font-size:8px;line-height:9px;color:#9b9ea8;white-space:nowrap;letter-spacing:-0.500px;right:156.70px;">1.31%</div>
<div style="position:absolute;left:605.6px;top:323.54999999999995px;width:11.4px;height:8.4px;line-height:0;box-shadow:0 0 1.5px rgba(120,130,160,.45)"><svg width="11.4" height="8.4" viewBox="0 0 19 14" preserveAspectRatio="none"><rect width="19" height="14" fill="#2f3f86"/><path d="M0 0L19 14M19 0L0 14" stroke="#fff" stroke-width="2.600"/><path d="M0 0L19 14M19 0L0 14" stroke="#d9394a" stroke-width="1"/><path d="M9.5 0V14M0 7H19" stroke="#fff" stroke-width="4"/><path d="M9.5 0V14M0 7H19" stroke="#d9394a" stroke-width="2.400"/></svg></div>
<div style="position:absolute;top:323px;font-size:9px;line-height:10px;color:#2a2d40;white-space:nowrap;letter-spacing:-0.055px;-webkit-text-stroke:0.12px #2a2d40;left:622.00px;">London</div>
<div style="position:absolute;top:324px;font-size:8px;line-height:9px;color:#9b9ea8;white-space:nowrap;letter-spacing:-0.500px;right:156.70px;">1.21%</div>
<div style="position:absolute;left:605.6px;top:346.59999999999997px;width:11.4px;height:8.4px;line-height:0;box-shadow:0 0 1.5px rgba(120,130,160,.45)"><svg width="11.4" height="8.4" viewBox="0 0 19 14" preserveAspectRatio="none"><rect width="19" height="14" fill="#25a043"/><path d="M9.5 1.300L17.600 7 9.5 12.700 1.400 7z" fill="#f7d62e"/><circle cx="9.5" cy="7" r="3.400" fill="#2c4aa5"/><path d="M6.300 6.200c2.200-.5 4.600 0 6.400 1.400" stroke="#fff" stroke-width=".7" fill="none"/></svg></div>
<div style="position:absolute;top:346px;font-size:9px;line-height:10px;color:#2a2d40;white-space:nowrap;letter-spacing:-0.081px;-webkit-text-stroke:0.12px #2a2d40;left:622.00px;">Rio de Janeiro</div>
<div style="position:absolute;top:347px;font-size:8px;line-height:9px;color:#9b9ea8;white-space:nowrap;letter-spacing:-0.057px;right:156.26px;">0.80%</div>
<div style="position:absolute;top:368px;font-size:9px;line-height:10px;color:#2a2d40;white-space:nowrap;letter-spacing:0.050px;-webkit-text-stroke:0.12px #2a2d40;left:605.80px;text-decoration:underline;text-underline-offset:1px;text-decoration-thickness:.8px;">View more</div>
<div style="position:absolute;top:418px;font-size:8.8px;line-height:10px;color:#1d1f2b;white-space:nowrap;letter-spacing:0.194px;-webkit-text-stroke:0.3px #1d1f2b;left:163.00px;">Location by country</div>
<svg style="position:absolute;left:247.10px;top:418.60px" width="9" height="9" viewBox="0 0 9 9"><circle cx="4.5" cy="4.5" r="4.3" fill="#d0d5e1"/><path d="M3.3 3.6c0-.7.5-1.2 1.25-1.2.7 0 1.2.45 1.2 1.05 0 .9-1.15.95-1.15 1.85" fill="none" stroke="#fff" stroke-width=".9" stroke-linecap="round"/><circle cx="4.55" cy="6.6" r=".55" fill="#fff"/></svg>
<div style="position:absolute;left:163px;top:441.9px;width:11.4px;height:8.4px;line-height:0;box-shadow:0 0 1.5px rgba(120,130,160,.45)"><svg width="11.4" height="8.4" viewBox="0 0 19 14" preserveAspectRatio="none"><rect width="19" height="14" fill="#fff"/><g fill="#de6471"><rect y="0" width="19" height="1.08"/><rect y="2.15" width="19" height="1.08"/><rect y="4.3" width="19" height="1.08"/><rect y="6.45" width="19" height="1.08"/><rect y="8.6" width="19" height="1.08"/><rect y="10.75" width="19" height="1.08"/><rect y="12.92" width="19" height="1.08"/></g><rect width="8.8" height="7.55" fill="#333f78"/></svg></div>
<div style="position:absolute;top:441px;font-size:9px;line-height:10px;color:#2a2d40;white-space:nowrap;letter-spacing:-0.079px;-webkit-text-stroke:0.12px #2a2d40;left:179.60px;">United States</div>
<div style="position:absolute;top:441px;font-size:8.4px;line-height:10px;color:#9b9ea8;white-space:nowrap;letter-spacing:-0.248px;right:565.45px;">30.72%</div>
<div style="position:absolute;left:162.8px;top:457.00px;width:212px;height:2.6px;border-radius:2px;background:#e3e7f1"><div style="width:30.72%;height:100%;border-radius:2px;background:#2d3046"></div></div>
<div style="position:absolute;left:163px;top:474.2px;width:11.4px;height:8.4px;line-height:0;box-shadow:0 0 1.5px rgba(120,130,160,.45)"><svg width="11.4" height="8.4" viewBox="0 0 19 14" preserveAspectRatio="none"><rect width="19" height="14" fill="#25a043"/><path d="M9.5 1.300L17.600 7 9.5 12.700 1.400 7z" fill="#f7d62e"/><circle cx="9.5" cy="7" r="3.400" fill="#2c4aa5"/><path d="M6.300 6.200c2.200-.5 4.600 0 6.400 1.400" stroke="#fff" stroke-width=".7" fill="none"/></svg></div>
<div style="position:absolute;top:473px;font-size:9px;line-height:10px;color:#2a2d40;white-space:nowrap;letter-spacing:-0.351px;-webkit-text-stroke:0.12px #2a2d40;left:179.60px;">Brazil</div>
<div style="position:absolute;top:473px;font-size:8.4px;line-height:10px;color:#9b9ea8;white-space:nowrap;letter-spacing:-0.500px;right:565.70px;">6.61%</div>
<div style="position:absolute;left:162.8px;top:489.30px;width:212px;height:2.6px;border-radius:2px;background:#e3e7f1"><div style="width:6.61%;height:100%;border-radius:2px;background:#2d3046"></div></div>
<div style="position:absolute;top:418px;font-size:8.8px;line-height:10px;color:#1d1f2b;white-space:nowrap;letter-spacing:0.116px;-webkit-text-stroke:0.3px #1d1f2b;left:412.00px;">Ethnicity</div>
<svg style="position:absolute;left:449.70px;top:418.60px" width="9" height="9" viewBox="0 0 9 9"><circle cx="4.5" cy="4.5" r="4.3" fill="#d0d5e1"/><path d="M3.3 3.6c0-.7.5-1.2 1.25-1.2.7 0 1.2.45 1.2 1.05 0 .9-1.15.95-1.15 1.85" fill="none" stroke="#fff" stroke-width=".9" stroke-linecap="round"/><circle cx="4.55" cy="6.6" r=".55" fill="#fff"/></svg>
<div style="position:absolute;top:441px;font-size:9px;line-height:10px;color:#2a2d40;white-space:nowrap;letter-spacing:0.139px;-webkit-text-stroke:0.12px #2a2d40;left:411.80px;">White / Caucasian</div>
<div style="position:absolute;top:441px;font-size:8.4px;line-height:10px;color:#9b9ea8;white-space:nowrap;letter-spacing:-0.198px;right:316.40px;">59.43%</div>
<div style="position:absolute;left:411.8px;top:457.00px;width:212px;height:2.6px;border-radius:2px;background:#e3e7f1"><div style="width:59.43%;height:100%;border-radius:2px;background:#2d3046"></div></div>
<div style="position:absolute;top:473px;font-size:9px;line-height:10px;color:#2a2d40;white-space:nowrap;-webkit-text-stroke:0.12px #2a2d40;left:411.80px;">Hispanic</div>
<div style="position:absolute;top:473px;font-size:8.4px;line-height:10px;color:#9b9ea8;white-space:nowrap;letter-spacing:-0.498px;right:316.70px;">16.69%</div>
<div style="position:absolute;left:411.8px;top:489.30px;width:212px;height:2.6px;border-radius:2px;background:#e3e7f1"><div style="width:16.69%;height:100%;border-radius:2px;background:#2d3046"></div></div>
<div style="position:absolute;top:418px;font-size:8.8px;line-height:10px;color:#1d1f2b;white-space:nowrap;letter-spacing:0.181px;-webkit-text-stroke:0.3px #1d1f2b;left:661.00px;">Language</div>
<svg style="position:absolute;left:705.00px;top:418.60px" width="9" height="9" viewBox="0 0 9 9"><circle cx="4.5" cy="4.5" r="4.3" fill="#d0d5e1"/><path d="M3.3 3.6c0-.7.5-1.2 1.25-1.2.7 0 1.2.45 1.2 1.05 0 .9-1.15.95-1.15 1.85" fill="none" stroke="#fff" stroke-width=".9" stroke-linecap="round"/><circle cx="4.55" cy="6.6" r=".55" fill="#fff"/></svg>
<div style="position:absolute;top:441px;font-size:9px;line-height:10px;color:#2a2d40;white-space:nowrap;letter-spacing:-0.274px;-webkit-text-stroke:0.12px #2a2d40;left:660.80px;">English</div>
<div style="position:absolute;top:441px;font-size:8.4px;line-height:10px;color:#9b9ea8;white-space:nowrap;letter-spacing:-0.198px;right:67.40px;">59.52%</div>
<div style="position:absolute;left:660.8px;top:457.00px;width:212px;height:2.6px;border-radius:2px;background:#e3e7f1"><div style="width:59.52%;height:100%;border-radius:2px;background:#2d3046"></div></div>
<div style="position:absolute;top:473px;font-size:9px;line-height:10px;color:#2a2d40;white-space:nowrap;letter-spacing:-0.118px;-webkit-text-stroke:0.12px #2a2d40;left:660.80px;">Spanish</div>
<div style="position:absolute;top:473px;font-size:8.4px;line-height:10px;color:#9b9ea8;white-space:nowrap;letter-spacing:-0.500px;right:67.70px;">13.63%</div>
<div style="position:absolute;left:660.8px;top:489.30px;width:212px;height:2.6px;border-radius:2px;background:#e3e7f1"><div style="width:13.63%;height:100%;border-radius:2px;background:#2d3046"></div></div>
<div style="position:absolute;left:0;top:0;width:940px;height:35.6px;background:#f7f9fb"></div>
<svg style="position:absolute;left:0;top:0" width="120" height="36"><g fill="#16172a"><rect x="19.1" y="13.9" width="3.6" height="10.8"/><circle cx="20.9" cy="10.2" r="2.05"/><rect x="57.3" y="13.9" width="3.6" height="10.8"/><circle cx="59.1" cy="10.2" r="2.05"/><rect x="51.9" y="13.9" width="3.6" height="10.8"/></g><g fill="none" stroke="#16172a" stroke-width="3.6"><path d="M26.4 24.7V13.9"/><path d="M26.4 24.7V18.95a3.45 3.45 0 0 1 6.9 0V24.7"/><path d="M33.3 24.7V18.95a3.45 3.45 0 0 1 6.9 0V24.7"/></g><circle cx="48.9" cy="19.3" r="3.95" fill="none" stroke="#16172a" stroke-width="3.3"/></svg>
<div style="position:absolute;top:26px;font-size:4.3px;line-height:5px;color:#2a2b3c;white-space:nowrap;letter-spacing:-0.012px;left:19.10px;">influencermarketing.ai</div>
<div style="position:absolute;top:14px;font-size:9px;line-height:10px;color:#8a93a6;white-space:nowrap;letter-spacing:0.298px;left:735.60px;">Influencer</div>
<div style="position:absolute;left:788.3px;top:7.1px;width:55.3px;height:23.9px;box-sizing:border-box;border:1px solid #e9edf5;border-radius:5px;background:#f9fafc"></div>
<div style="position:absolute;top:14px;font-size:9px;line-height:10px;color:#16171f;white-space:nowrap;letter-spacing:0.346px;-webkit-text-stroke:0.22px #16171f;left:795.80px;">Audience</div>
<div style="position:absolute;top:14px;font-size:9px;line-height:10px;color:#8a93a6;white-space:nowrap;letter-spacing:-0.082px;left:853.50px;">Posts</div>
<svg style="position:absolute;left:0;top:0" width="940" height="500"><g fill="none" stroke="#cdd3e3"><circle cx="28.7" cy="60.4" r="3.2" stroke-width="1.5"/><path d="M31.300 63L35 65.300" stroke-width="1.800" stroke-linecap="round"/></g><g fill="#cdd3e3"><rect x="25.6" y="79.30" width="1.7" height="1.6" rx=".4"/><rect x="28.8" y="79.50" width="7.2" height="1.2" rx=".5"/><rect x="25.6" y="82.80" width="1.7" height="1.6" rx=".4"/><rect x="28.8" y="83.00" width="7.2" height="1.2" rx=".5"/><rect x="25.6" y="86.30" width="1.7" height="1.6" rx=".4"/><rect x="28.8" y="86.50" width="7.2" height="1.2" rx=".5"/></g><g fill="#cdd3e3"><circle cx="29.9" cy="103.6" r="2.3"/><path d="M25.3 111.4v-1.6c0-1.900 1.500-3 3-3h3.200c1.500 0 3 1.100 3 3v1.600z"/><path d="M33 101.900a2 2 0 1 1 0 3.800a3.300 3.300 0 0 0 0-3.800z"/><path d="M35.400 111.400v-1.800c0-1-.4-1.900-1.100-2.600h1.400c1.400 0 2.600 1 2.600 2.600v1.800z"/></g><polygon points="31.10,123.90 32.69,127.12 36.24,127.63 33.67,130.13 34.27,133.67 31.10,132.00 27.93,133.67 28.53,130.13 25.96,127.63 29.51,127.12" fill="#cdd3e3" stroke="#cdd3e3" stroke-width=".9" stroke-linejoin="round"/><g transform="translate(29.7 151.25)"><rect x="-4.4" y="-4.3" width="8.8" height="8.600" rx="1" fill="#cdd3e3"/><circle cx="-2" cy="2" r=".9" fill="#fff"/><path d="M-2.800 -.6a3.400 3.400 0 0 1 3.400 3.400M-2.800 -2.800a5.600 5.600 0 0 1 5.600 5.600" stroke="#fff" stroke-width="1" fill="none"/></g><g transform="translate(30.7 173.7)" fill="none" stroke="#cdd3e3"><path d="M-3.600 3.500a4.900 4.900 0 1 1 7.200 0" stroke-width=".9"/><rect x="-3.700" y="-.9" width="2" height="3.600" rx=".9" fill="#cdd3e3" stroke="none"/><rect x="1.700" y="-.9" width="2" height="3.600" rx=".9" fill="#cdd3e3" stroke="none"/><path d="M3.600 3.400c-.8 1.200-2 1.500-3.600 1.500" stroke-width=".9"/><rect x="-1.200" y="4.200" width="2.200" height="1.300" rx=".6" fill="#cdd3e3" stroke="none"/></g></svg>
<div style="position:absolute;left:16px;top:442.2px;width:26px;height:26.6px;border-radius:2.5px;background:#000"></div>
<svg style="position:absolute;left:0;top:0" width="940" height="500"><path d="M25.900 456.700L29.050 453.500L32.200 456.700" fill="none" stroke="#fff" stroke-width="1.250" stroke-linecap="round" stroke-linejoin="round"/></svg>
<div style="position:absolute;left:0;top:482px;width:940px;height:15.6px;background:linear-gradient(rgba(0,0,0,0),rgba(0,0,0,.085));-webkit-mask-image:linear-gradient(90deg,rgba(0,0,0,.1),rgba(0,0,0,.25) 9%,#000 24%,#000 60%,rgba(0,0,0,0) 96%);mask-image:linear-gradient(90deg,rgba(0,0,0,.1),rgba(0,0,0,.25) 9%,#000 24%,#000 60%,rgba(0,0,0,0) 96%)"></div>
<div style="position:absolute;left:0;top:497.600px;width:940px;height:3px;background:#fff"></div>
<svg style="position:absolute;left:0;top:0" width="940" height="500"><path d="M0 491.500a6 6 0 0 0 6 6H0z" fill="#000"/></svg>
<div style="position:absolute;left:0;top:0;width:940px;height:1.700px;background:#fff"></div>
</div>
</body></html>
